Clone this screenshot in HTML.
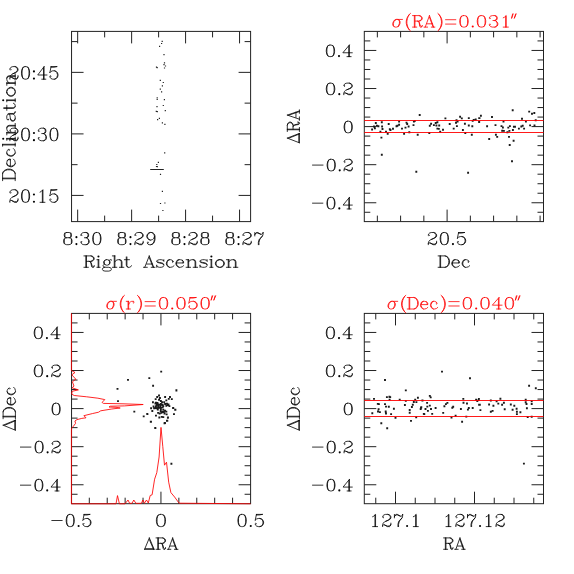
<!DOCTYPE html><html><head><meta charset="utf-8"><style>html,body{margin:0;padding:0;background:#fff;}svg{display:block}</style></head><body><svg width="574" height="574" viewBox="0 0 574 574"><rect width="574" height="574" fill="#fff"/>
<path d="M77.67 221.6L77.67 209.6M77.67 31.4L77.67 43.4M104.65 221.6L104.65 215.6M104.65 31.4L104.65 37.4M131.63 221.6L131.63 209.6M131.63 31.4L131.63 43.4M158.61 221.6L158.61 215.6M158.61 31.4L158.61 37.4M185.59 221.6L185.59 209.6M185.59 31.4L185.59 43.4M212.57 221.6L212.57 215.6M212.57 31.4L212.57 37.4M239.55 221.6L239.55 209.6M239.55 31.4L239.55 43.4M71.55 41.6L77.55 41.6M250.6 41.6L244.6 41.6M71.55 72.37L83.55 72.37M250.6 72.37L238.6 72.37M71.55 103.13L77.55 103.13M250.6 103.13L244.6 103.13M71.55 133.9L83.55 133.9M250.6 133.9L238.6 133.9M71.55 164.66L77.55 164.66M250.6 164.66L244.6 164.66M71.55 195.42L83.55 195.42M250.6 195.42L238.6 195.42M377.35 221.6L377.35 215.6M377.35 31.4L377.35 37.4M400.6 221.6L400.6 215.6M400.6 31.4L400.6 37.4M423.85 221.6L423.85 215.6M423.85 31.4L423.85 37.4M447.1 221.6L447.1 209.6M447.1 31.4L447.1 43.4M470.35 221.6L470.35 215.6M470.35 31.4L470.35 37.4M493.6 221.6L493.6 215.6M493.6 31.4L493.6 37.4M516.85 221.6L516.85 215.6M516.85 31.4L516.85 37.4M540.1 221.6L540.1 215.6M540.1 31.4L540.1 37.4M364.3 212.28L370.3 212.28M543.5 212.28L537.5 212.28M364.3 202.76L376.3 202.76M543.5 202.76L531.5 202.76M364.3 193.24L370.3 193.24M543.5 193.24L537.5 193.24M364.3 183.72L370.3 183.72M543.5 183.72L537.5 183.72M364.3 174.2L370.3 174.2M543.5 174.2L537.5 174.2M364.3 164.68L376.3 164.68M543.5 164.68L531.5 164.68M364.3 155.16L370.3 155.16M543.5 155.16L537.5 155.16M364.3 145.64L370.3 145.64M543.5 145.64L537.5 145.64M364.3 136.12L370.3 136.12M543.5 136.12L537.5 136.12M364.3 126.6L376.3 126.6M543.5 126.6L531.5 126.6M364.3 117.08L370.3 117.08M543.5 117.08L537.5 117.08M364.3 107.56L370.3 107.56M543.5 107.56L537.5 107.56M364.3 98.04L370.3 98.04M543.5 98.04L537.5 98.04M364.3 88.52L376.3 88.52M543.5 88.52L531.5 88.52M364.3 79L370.3 79M543.5 79L537.5 79M364.3 69.48L370.3 69.48M543.5 69.48L537.5 69.48M364.3 59.96L370.3 59.96M543.5 59.96L537.5 59.96M364.3 50.44L376.3 50.44M543.5 50.44L531.5 50.44M364.3 40.92L370.3 40.92M543.5 40.92L537.5 40.92M89.31 503.7L89.31 497.7M89.31 313.4L89.31 319.4M107.22 503.7L107.22 497.7M107.22 313.4L107.22 319.4M125.13 503.7L125.13 497.7M125.13 313.4L125.13 319.4M143.04 503.7L143.04 497.7M143.04 313.4L143.04 319.4M160.95 503.7L160.95 491.7M160.95 313.4L160.95 325.4M178.86 503.7L178.86 497.7M178.86 313.4L178.86 319.4M196.77 503.7L196.77 497.7M196.77 313.4L196.77 319.4M214.68 503.7L214.68 497.7M214.68 313.4L214.68 319.4M232.59 503.7L232.59 497.7M232.59 313.4L232.59 319.4M71.55 494.28L77.55 494.28M250.6 494.28L244.6 494.28M71.55 484.76L83.55 484.76M250.6 484.76L238.6 484.76M71.55 475.24L77.55 475.24M250.6 475.24L244.6 475.24M71.55 465.72L77.55 465.72M250.6 465.72L244.6 465.72M71.55 456.2L77.55 456.2M250.6 456.2L244.6 456.2M71.55 446.68L83.55 446.68M250.6 446.68L238.6 446.68M71.55 437.16L77.55 437.16M250.6 437.16L244.6 437.16M71.55 427.64L77.55 427.64M250.6 427.64L244.6 427.64M71.55 418.12L77.55 418.12M250.6 418.12L244.6 418.12M71.55 408.6L83.55 408.6M250.6 408.6L238.6 408.6M71.55 399.08L77.55 399.08M250.6 399.08L244.6 399.08M71.55 389.56L77.55 389.56M250.6 389.56L244.6 389.56M71.55 380.04L77.55 380.04M250.6 380.04L244.6 380.04M71.55 370.52L83.55 370.52M250.6 370.52L238.6 370.52M71.55 361L77.55 361M250.6 361L244.6 361M71.55 351.48L77.55 351.48M250.6 351.48L244.6 351.48M71.55 341.96L77.55 341.96M250.6 341.96L244.6 341.96M71.55 332.44L83.55 332.44M250.6 332.44L238.6 332.44M71.55 322.92L77.55 322.92M250.6 322.92L244.6 322.92M375.75 503.7L375.75 497.7M375.75 313.4L375.75 319.4M395.5 503.7L395.5 491.7M395.5 313.4L395.5 325.4M415.25 503.7L415.25 497.7M415.25 313.4L415.25 319.4M435 503.7L435 497.7M435 313.4L435 319.4M454.75 503.7L454.75 497.7M454.75 313.4L454.75 319.4M474.5 503.7L474.5 491.7M474.5 313.4L474.5 325.4M494.25 503.7L494.25 497.7M494.25 313.4L494.25 319.4M514 503.7L514 497.7M514 313.4L514 319.4M533.75 503.7L533.75 497.7M533.75 313.4L533.75 319.4M364.3 494.28L370.3 494.28M543.5 494.28L537.5 494.28M364.3 484.76L376.3 484.76M543.5 484.76L531.5 484.76M364.3 475.24L370.3 475.24M543.5 475.24L537.5 475.24M364.3 465.72L370.3 465.72M543.5 465.72L537.5 465.72M364.3 456.2L370.3 456.2M543.5 456.2L537.5 456.2M364.3 446.68L376.3 446.68M543.5 446.68L531.5 446.68M364.3 437.16L370.3 437.16M543.5 437.16L537.5 437.16M364.3 427.64L370.3 427.64M543.5 427.64L537.5 427.64M364.3 418.12L370.3 418.12M543.5 418.12L537.5 418.12M364.3 408.6L376.3 408.6M543.5 408.6L531.5 408.6M364.3 399.08L370.3 399.08M543.5 399.08L537.5 399.08M364.3 389.56L370.3 389.56M543.5 389.56L537.5 389.56M364.3 380.04L370.3 380.04M543.5 380.04L537.5 380.04M364.3 370.52L376.3 370.52M543.5 370.52L531.5 370.52M364.3 361L370.3 361M543.5 361L537.5 361M364.3 351.48L370.3 351.48M543.5 351.48L537.5 351.48M364.3 341.96L370.3 341.96M543.5 341.96L537.5 341.96M364.3 332.44L376.3 332.44M543.5 332.44L531.5 332.44M364.3 322.92L370.3 322.92M543.5 322.92L537.5 322.92" stroke="#222" stroke-width="1.0" fill="none"/>
<rect x="71.55" y="31.4" width="179.05" height="190.2" fill="none" stroke="#222" stroke-width="1.0"/>
<rect x="71.55" y="313.4" width="179.05" height="190.3" fill="none" stroke="#222" stroke-width="1.0"/>
<rect x="364.3" y="31.4" width="179.2" height="190.2" fill="none" stroke="#222" stroke-width="1.0"/>
<rect x="364.3" y="313.4" width="179.2" height="190.3" fill="none" stroke="#222" stroke-width="1.0"/>
<path d="M161.6 40.8h1.2v1.2h-1.2zM161 42.9h1.2v1.2h-1.2zM159 45.7h1.2v1.2h-1.2zM163.4 54h1.2v1.2h-1.2zM163.9 62.3h1.2v1.2h-1.2zM163.4 64h1.2v1.2h-1.2zM164.9 65.4h1.2v1.2h-1.2zM156.6 67.1h1.2v1.2h-1.2zM155.9 66.6h1.2v1.2h-1.2zM163.9 67.4h1.2v1.2h-1.2zM159.7 79.7h1.2v1.2h-1.2zM162.7 81.9h1.2v1.2h-1.2zM161.8 85.3h1.2v1.2h-1.2zM159.7 88.6h1.2v1.2h-1.2zM161 91.2h1.2v1.2h-1.2zM156.6 97.3h1.2v1.2h-1.2zM156.6 98.9h1.2v1.2h-1.2zM163.8 99h1.2v1.2h-1.2zM156.4 106h1.2v1.2h-1.2zM162.7 104.9h1.2v1.2h-1.2zM155.7 110.8h1.2v1.2h-1.2zM156.7 111h1.2v1.2h-1.2zM164.7 110.1h1.2v1.2h-1.2zM158.8 117.8h1.2v1.2h-1.2zM157 119.1h1.2v1.2h-1.2zM161.8 122.3h1.2v1.2h-1.2zM164.3 123.7h1.2v1.2h-1.2zM164.1 152.2h1.2v1.2h-1.2zM157.8 161.7h1.2v1.2h-1.2zM156.2 163.9h1.2v1.2h-1.2zM155.9 165.9h1.2v1.2h-1.2zM156.7 166h1.2v1.2h-1.2zM159.9 173.7h1.2v1.2h-1.2zM161.8 190.8h1.2v1.2h-1.2zM159.9 202.9h1.2v1.2h-1.2zM164.3 202.4h1.2v1.2h-1.2zM162.3 209.9h1.2v1.2h-1.2z" fill="#222"/>
<line x1="150.2" y1="169.5" x2="163.8" y2="169.5" stroke="#222" stroke-width="1.0"/>
<path d="M371.15 128.55h1.9v1.9h-1.9zM373.05 125.55h1.9v1.9h-1.9zM373.95 127.35h1.9v1.9h-1.9zM374.85 122.05h1.9v1.9h-1.9zM375.85 124.85h1.9v1.9h-1.9zM377.45 125.25h1.9v1.9h-1.9zM379.45 130.85h1.9v1.9h-1.9zM380.45 136.65h1.9v1.9h-1.9zM380.85 121.35h1.9v1.9h-1.9zM381.15 125.55h1.9v1.9h-1.9zM381.55 128.05h1.9v1.9h-1.9zM380.85 153.85h1.9v1.9h-1.9zM385.05 130.85h1.9v1.9h-1.9zM386.75 132.75h1.9v1.9h-1.9zM387.75 123.05h1.9v1.9h-1.9zM388.85 128.35h1.9v1.9h-1.9zM389.55 129.05h1.9v1.9h-1.9zM392.05 127.75h1.9v1.9h-1.9zM395.55 125.25h1.9v1.9h-1.9zM396.45 124.85h1.9v1.9h-1.9zM398.15 120.65h1.9v1.9h-1.9zM398.15 123.75h1.9v1.9h-1.9zM401.05 127.65h1.9v1.9h-1.9zM403.15 132.95h1.9v1.9h-1.9zM404.55 126.65h1.9v1.9h-1.9zM405.55 121.65h1.9v1.9h-1.9zM406.25 123.05h1.9v1.9h-1.9zM407.65 125.55h1.9v1.9h-1.9zM408.35 131.35h1.9v1.9h-1.9zM412.55 124.15h1.9v1.9h-1.9zM412.95 120.65h1.9v1.9h-1.9zM413.95 119.95h1.9v1.9h-1.9zM416.75 133.85h1.9v1.9h-1.9zM418.75 114.05h1.9v1.9h-1.9zM415.35 170.85h1.9v1.9h-1.9zM428.35 132.05h1.9v1.9h-1.9zM428.85 124.85h1.9v1.9h-1.9zM430.15 122.75h1.9v1.9h-1.9zM432.95 124.15h1.9v1.9h-1.9zM434.75 122.05h1.9v1.9h-1.9zM435.45 124.55h1.9v1.9h-1.9zM436.45 121.35h1.9v1.9h-1.9zM436.45 127.65h1.9v1.9h-1.9zM437.85 127.95h1.9v1.9h-1.9zM438.25 124.55h1.9v1.9h-1.9zM439.25 130.85h1.9v1.9h-1.9zM442.05 128.75h1.9v1.9h-1.9zM444.45 117.45h1.9v1.9h-1.9zM448.75 123.05h1.9v1.9h-1.9zM452.75 127.65h1.9v1.9h-1.9zM455.05 121.75h1.9v1.9h-1.9zM455.55 119.25h1.9v1.9h-1.9zM455.95 125.15h1.9v1.9h-1.9zM456.65 120.65h1.9v1.9h-1.9zM459.15 115.75h1.9v1.9h-1.9zM460.85 117.45h1.9v1.9h-1.9zM461.95 129.05h1.9v1.9h-1.9zM463.95 122.75h1.9v1.9h-1.9zM464.35 132.05h1.9v1.9h-1.9zM467.15 171.85h1.9v1.9h-1.9zM467.85 117.15h1.9v1.9h-1.9zM467.85 124.55h1.9v1.9h-1.9zM470.85 133.85h1.9v1.9h-1.9zM471.35 125.25h1.9v1.9h-1.9zM471.75 119.95h1.9v1.9h-1.9zM472.75 118.95h1.9v1.9h-1.9zM474.75 118.55h1.9v1.9h-1.9zM478.25 117.15h1.9v1.9h-1.9zM478.25 120.95h1.9v1.9h-1.9zM478.15 121.05h1.9v1.9h-1.9zM478.55 117.15h1.9v1.9h-1.9zM479.95 114.75h1.9v1.9h-1.9zM486.15 125.25h1.9v1.9h-1.9zM488.25 138.05h1.9v1.9h-1.9zM491.05 116.05h1.9v1.9h-1.9zM494.55 124.15h1.9v1.9h-1.9zM494.95 133.85h1.9v1.9h-1.9zM496.25 135.95h1.9v1.9h-1.9zM500.55 125.15h1.9v1.9h-1.9zM501.25 129.75h1.9v1.9h-1.9zM501.95 126.55h1.9v1.9h-1.9zM502.55 120.65h1.9v1.9h-1.9zM502.95 129.95h1.9v1.9h-1.9zM506.45 131.35h1.9v1.9h-1.9zM507.35 126.65h1.9v1.9h-1.9zM508.05 135.95h1.9v1.9h-1.9zM508.45 129.95h1.9v1.9h-1.9zM508.75 144.05h1.9v1.9h-1.9zM508.95 125.15h1.9v1.9h-1.9zM511.05 160.35h1.9v1.9h-1.9zM511.75 109.25h1.9v1.9h-1.9zM511.95 129.05h1.9v1.9h-1.9zM512.65 139.85h1.9v1.9h-1.9zM512.95 125.85h1.9v1.9h-1.9zM514.05 125.85h1.9v1.9h-1.9zM517.95 127.65h1.9v1.9h-1.9zM520.35 125.55h1.9v1.9h-1.9zM521.05 117.85h1.9v1.9h-1.9zM521.75 124.85h1.9v1.9h-1.9zM523.15 127.65h1.9v1.9h-1.9zM524.95 120.65h1.9v1.9h-1.9zM528.25 110.65h1.9v1.9h-1.9zM529.15 124.45h1.9v1.9h-1.9zM531.05 112.75h1.9v1.9h-1.9zM533.35 112.05h1.9v1.9h-1.9zM533.55 124.55h1.9v1.9h-1.9zM534.75 119.25h1.9v1.9h-1.9z" fill="#1a1a1a"/>
<path d="M371.35 412.35h1.9v1.9h-1.9zM373.05 397.95h1.9v1.9h-1.9zM376.85 402.95h1.9v1.9h-1.9zM377.95 403.15h1.9v1.9h-1.9zM377.05 410.55h1.9v1.9h-1.9zM377.65 408.35h1.9v1.9h-1.9zM378.95 411.15h1.9v1.9h-1.9zM380.35 422.35h1.9v1.9h-1.9zM384.05 379.05h1.9v1.9h-1.9zM384.05 403.15h1.9v1.9h-1.9zM384.75 410.55h1.9v1.9h-1.9zM385.05 405.65h1.9v1.9h-1.9zM385.05 412.55h1.9v1.9h-1.9zM385.95 396.15h1.9v1.9h-1.9zM386.25 427.25h1.9v1.9h-1.9zM387.85 405.85h1.9v1.9h-1.9zM388.45 395.85h1.9v1.9h-1.9zM388.65 398.65h1.9v1.9h-1.9zM389.25 396.15h1.9v1.9h-1.9zM390.15 413.15h1.9v1.9h-1.9zM392.95 407.75h1.9v1.9h-1.9zM394.55 416.95h1.9v1.9h-1.9zM398.75 398.65h1.9v1.9h-1.9zM403.95 404.05h1.9v1.9h-1.9zM404.85 389.45h1.9v1.9h-1.9zM404.85 399.95h1.9v1.9h-1.9zM408.75 409.05h1.9v1.9h-1.9zM408.75 411.75h1.9v1.9h-1.9zM410.05 419.95h1.9v1.9h-1.9zM410.95 406.05h1.9v1.9h-1.9zM411.85 403.85h1.9v1.9h-1.9zM412.85 401.05h1.9v1.9h-1.9zM414.25 398.65h1.9v1.9h-1.9zM415.25 416.35h1.9v1.9h-1.9zM415.45 401.15h1.9v1.9h-1.9zM416.95 396.85h1.9v1.9h-1.9zM419.75 408.05h1.9v1.9h-1.9zM420.35 406.25h1.9v1.9h-1.9zM421.55 399.55h1.9v1.9h-1.9zM422.85 412.95h1.9v1.9h-1.9zM441.05 370.65h1.9v1.9h-1.9zM469.05 377.35h1.9v1.9h-1.9zM421.45 399.55h1.9v1.9h-1.9zM428.85 394.95h1.9v1.9h-1.9zM429.75 396.45h1.9v1.9h-1.9zM420.05 406.85h1.9v1.9h-1.9zM423.35 413.15h1.9v1.9h-1.9zM424.55 408.05h1.9v1.9h-1.9zM426.15 401.95h1.9v1.9h-1.9zM426.35 405.65h1.9v1.9h-1.9zM426.95 409.95h1.9v1.9h-1.9zM428.85 404.65h1.9v1.9h-1.9zM430.05 408.05h1.9v1.9h-1.9zM431.25 412.95h1.9v1.9h-1.9zM434.65 407.05h1.9v1.9h-1.9zM442.25 411.95h1.9v1.9h-1.9zM443.45 405.35h1.9v1.9h-1.9zM444.95 403.15h1.9v1.9h-1.9zM446.45 401.95h1.9v1.9h-1.9zM450.55 416.65h1.9v1.9h-1.9zM451.35 406.85h1.9v1.9h-1.9zM452.25 405.85h1.9v1.9h-1.9zM454.65 414.75h1.9v1.9h-1.9zM459.95 408.05h1.9v1.9h-1.9zM461.15 420.85h1.9v1.9h-1.9zM462.35 397.95h1.9v1.9h-1.9zM462.55 401.75h1.9v1.9h-1.9zM465.35 415.65h1.9v1.9h-1.9zM466.05 402.55h1.9v1.9h-1.9zM466.95 408.65h1.9v1.9h-1.9zM467.85 407.05h1.9v1.9h-1.9zM471.75 407.05h1.9v1.9h-1.9zM475.15 398.65h1.9v1.9h-1.9zM476.35 400.15h1.9v1.9h-1.9zM477.95 397.95h1.9v1.9h-1.9zM478.15 403.85h1.9v1.9h-1.9zM477.65 399.05h1.9v1.9h-1.9zM478.85 403.85h1.9v1.9h-1.9zM479.45 409.15h1.9v1.9h-1.9zM488.15 403.55h1.9v1.9h-1.9zM489.85 399.55h1.9v1.9h-1.9zM489.85 410.85h1.9v1.9h-1.9zM491.65 409.95h1.9v1.9h-1.9zM492.45 404.75h1.9v1.9h-1.9zM495.65 400.45h1.9v1.9h-1.9zM497.35 402.65h1.9v1.9h-1.9zM499.45 397.75h1.9v1.9h-1.9zM501.15 403.85h1.9v1.9h-1.9zM502.95 401.85h1.9v1.9h-1.9zM503.75 408.25h1.9v1.9h-1.9zM509.85 403.55h1.9v1.9h-1.9zM511.65 408.75h1.9v1.9h-1.9zM513.35 404.75h1.9v1.9h-1.9zM515.65 407.75h1.9v1.9h-1.9zM515.95 410.85h1.9v1.9h-1.9zM515.95 413.15h1.9v1.9h-1.9zM519.45 411.35h1.9v1.9h-1.9zM522.95 462.65h1.9v1.9h-1.9zM524.75 398.65h1.9v1.9h-1.9zM524.75 401.25h1.9v1.9h-1.9zM525.55 403.05h1.9v1.9h-1.9zM525.95 407.35h1.9v1.9h-1.9zM526.75 416.05h1.9v1.9h-1.9zM528.15 384.75h1.9v1.9h-1.9zM530.75 400.45h1.9v1.9h-1.9zM530.75 403.05h1.9v1.9h-1.9zM530.75 415.75h1.9v1.9h-1.9zM534.85 387.35h1.9v1.9h-1.9z" fill="#1a1a1a"/>
<path d="M160.25 370.65h1.9v1.9h-1.9zM127.05 378.95h1.9v1.9h-1.9zM148.35 377.15h1.9v1.9h-1.9zM152.15 384.85h1.9v1.9h-1.9zM116.55 387.95h1.9v1.9h-1.9zM175.45 389.25h1.9v1.9h-1.9zM117.05 400.15h1.9v1.9h-1.9zM133.35 410.65h1.9v1.9h-1.9zM142.75 415.45h1.9v1.9h-1.9zM146.25 412.95h1.9v1.9h-1.9zM150.05 420.75h1.9v1.9h-1.9zM154.25 427.05h1.9v1.9h-1.9zM163.75 422.15h1.9v1.9h-1.9zM166.35 419.95h1.9v1.9h-1.9zM173.05 413.15h1.9v1.9h-1.9zM174.45 408.85h1.9v1.9h-1.9zM172.35 407.15h1.9v1.9h-1.9zM167.05 416.45h1.9v1.9h-1.9zM170.45 462.75h1.9v1.9h-1.9zM149.95 420.85h1.9v1.9h-1.9zM154.45 427.15h1.9v1.9h-1.9zM164.05 422.05h1.9v1.9h-1.9zM166.25 419.75h1.9v1.9h-1.9zM175.45 389.66h1.9v1.9h-1.9zM158.07 394.54h1.9v1.9h-1.9zM156.25 396.06h1.9v1.9h-1.9zM164.17 396.06h1.9v1.9h-1.9zM169.05 396.06h1.9v1.9h-1.9zM154.72 398.2h1.9v1.9h-1.9zM158.99 396.98h1.9v1.9h-1.9zM167.83 397.89h1.9v1.9h-1.9zM170.88 398.2h1.9v1.9h-1.9zM165.39 399.42h1.9v1.9h-1.9zM151.98 401.25h1.9v1.9h-1.9zM158.07 398.81h1.9v1.9h-1.9zM159.9 400.03h1.9v1.9h-1.9zM161.12 401.25h1.9v1.9h-1.9zM163.26 401.25h1.9v1.9h-1.9zM155.03 401.85h1.9v1.9h-1.9zM156.25 403.38h1.9v1.9h-1.9zM158.07 403.68h1.9v1.9h-1.9zM159.9 403.07h1.9v1.9h-1.9zM161.73 403.99h1.9v1.9h-1.9zM164.17 403.07h1.9v1.9h-1.9zM166 402.77h1.9v1.9h-1.9zM167.53 403.38h1.9v1.9h-1.9zM165.39 404.9h1.9v1.9h-1.9zM168.44 405.21h1.9v1.9h-1.9zM152.59 405.51h1.9v1.9h-1.9zM155.03 405.21h1.9v1.9h-1.9zM157.16 405.51h1.9v1.9h-1.9zM159.29 405.51h1.9v1.9h-1.9zM162.34 405.21h1.9v1.9h-1.9zM150.15 407.34h1.9v1.9h-1.9zM153.2 407.34h1.9v1.9h-1.9zM155.64 407.34h1.9v1.9h-1.9zM157.46 406.73h1.9v1.9h-1.9zM159.9 406.73h1.9v1.9h-1.9zM161.73 406.43h1.9v1.9h-1.9zM172.1 407.04h1.9v1.9h-1.9zM174.23 408.87h1.9v1.9h-1.9zM151.37 410.09h1.9v1.9h-1.9zM156.85 408.56h1.9v1.9h-1.9zM159.9 408.26h1.9v1.9h-1.9zM162.34 408.87h1.9v1.9h-1.9zM164.17 409.78h1.9v1.9h-1.9zM165.39 410.7h1.9v1.9h-1.9zM157.16 411.92h1.9v1.9h-1.9zM158.68 412.53h1.9v1.9h-1.9zM160.51 411.92h1.9v1.9h-1.9zM161.73 411h1.9v1.9h-1.9zM163.56 412.53h1.9v1.9h-1.9zM165.7 413.44h1.9v1.9h-1.9zM173.01 413.14h1.9v1.9h-1.9zM146.49 413.14h1.9v1.9h-1.9zM155.03 414.66h1.9v1.9h-1.9zM158.38 416.49h1.9v1.9h-1.9zM160.82 415.88h1.9v1.9h-1.9zM162.34 416.18h1.9v1.9h-1.9zM166.92 416.79h1.9v1.9h-1.9zM149.84 420.76h1.9v1.9h-1.9zM166 419.84h1.9v1.9h-1.9zM163.56 422.28h1.9v1.9h-1.9zM160.77 403.76h1.9v1.9h-1.9zM166.74 404.02h1.9v1.9h-1.9zM159.78 410.07h1.9v1.9h-1.9zM156.72 402.9h1.9v1.9h-1.9zM160.01 403.76h1.9v1.9h-1.9zM155.87 404.17h1.9v1.9h-1.9zM158.37 406.84h1.9v1.9h-1.9zM154.46 402.54h1.9v1.9h-1.9zM162.9 410.98h1.9v1.9h-1.9zM154.92 406.98h1.9v1.9h-1.9zM156.51 402.02h1.9v1.9h-1.9zM156.83 403.46h1.9v1.9h-1.9z" fill="#1a1a1a"/>
<line x1="364.3" y1="120.5" x2="543.5" y2="120.5" stroke="#f00" stroke-width="0.9"/>
<line x1="364.3" y1="132.5" x2="543.5" y2="132.5" stroke="#f00" stroke-width="0.9"/>
<line x1="364.3" y1="400.5" x2="543.5" y2="400.5" stroke="#f00" stroke-width="0.9"/>
<line x1="364.3" y1="416.5" x2="543.5" y2="416.5" stroke="#f00" stroke-width="0.9"/>
<polyline points="71.4,313.4 71.4,370.5 75,372.5 71.8,374.8 75.8,379.2 72.4,381.8 74,386.1 72.1,387.8 78.4,389.9 72.1,391.3 71.7,394.1 74.2,395.5 86.7,396.8 97.9,398.2 104.8,399.6 102.1,402.4 103.4,403.4 123,403.8 143.2,404.5 124.4,405.9 110.4,406.2 109,407 116,407.3 120.2,408 111.8,409 100.7,410.8 98.6,412.2 92.3,413.6 83.9,415.7 86,417.8 81.8,418.4 77,419.6 74.9,421 75.6,423.3 73.5,426.1 71.7,428.2 71.4,430 71.4,503.8" fill="none" stroke="#f00" stroke-width="0.85" stroke-linejoin="round"/>
<polyline points="71.4,503.8 116,503.8 117.5,495.6 119.4,503.8 125,503.8 128,500 129.6,503.3 132,503.3 133.8,500 135.9,503.3 141.4,503.3 142.9,500 144.5,503.3 145,502.2 146.5,500 148.3,503 150.2,495.5 152.1,494.8 154.6,479.2 156.8,472.6 159.1,457 161,427.4 162.8,446.7 164.5,465.2 166.5,462.2 168.7,482.2 170.9,492.6 174.6,497 179.1,503.2 250.5,503.8" fill="none" stroke="#f00" stroke-width="0.85" stroke-linejoin="round"/>
<path d="M10.48 69.00 11.06 69.60 10.48 70.20 9.90 69.60 9.90 69.00 10.48 67.80 11.06 67.20 12.80 66.60 15.12 66.60 16.85 67.20 17.43 67.80 18.01 69.00 18.01 70.20 17.43 71.40 15.70 72.60 12.80 73.80 11.64 74.40 10.48 75.60 9.90 77.40 9.90 79.20M15.12 66.60 16.27 67.20 16.85 67.80 17.43 69.00 17.43 70.20 16.85 71.40 15.12 72.60 12.80 73.80M9.90 78.00 10.48 77.40 11.64 77.40 14.54 78.60 16.27 78.60 17.43 78.00 18.01 76.80M11.64 77.40 14.54 79.20 16.85 79.20 17.43 78.60 18.01 76.80 18.01 75.60M24.97 66.60 23.23 67.20 22.07 69.00 21.49 72.00 21.49 73.80 22.07 76.80 23.23 78.60 24.97 79.20 26.13 79.20 27.87 78.60 29.02 76.80 29.60 73.80 29.60 72.00 29.02 69.00 27.87 67.20 26.13 66.60 24.97 66.60M23.23 67.20 22.65 68.40 22.07 70.80 22.07 75.00 22.65 77.40 23.23 78.60M27.87 78.60 28.44 77.40 29.02 75.00 29.02 70.80 28.44 68.40 27.87 67.20M43.51 67.80 43.51 79.20M44.09 66.60 44.09 79.20M44.09 66.60 37.72 75.00 46.99 75.00M41.77 79.20 45.83 79.20M51.05 66.60 49.89 72.60M49.89 72.60 51.05 71.40 52.78 70.80 54.52 70.80 56.26 71.40 57.42 72.60 58.00 74.40 58.00 75.60 57.42 77.40 56.26 78.60 54.52 79.20 52.78 79.20 51.05 78.60 50.47 78.00 49.89 76.80 49.89 76.20 50.47 75.60 51.05 76.20 50.47 76.80M54.52 70.80 55.68 71.40 56.84 72.60 57.42 74.40 57.42 75.60 56.84 77.40 55.68 78.60 54.52 79.20M51.05 66.60 56.84 66.60M51.05 67.20 53.94 67.20 56.84 66.60" fill="none" stroke="#000" stroke-width="0.8" stroke-linecap="round" stroke-linejoin="round"/><circle cx="33.95" cy="71.40" r="1.05" fill="#000"/><circle cx="33.95" cy="78.60" r="1.05" fill="#000"/>
<path d="M10.48 130.56 11.06 131.16 10.48 131.76 9.90 131.16 9.90 130.56 10.48 129.36 11.06 128.76 12.80 128.16 15.12 128.16 16.85 128.76 17.43 129.36 18.01 130.56 18.01 131.76 17.43 132.96 15.70 134.16 12.80 135.36 11.64 135.96 10.48 137.16 9.90 138.96 9.90 140.76M15.12 128.16 16.27 128.76 16.85 129.36 17.43 130.56 17.43 131.76 16.85 132.96 15.12 134.16 12.80 135.36M9.90 139.56 10.48 138.96 11.64 138.96 14.54 140.16 16.27 140.16 17.43 139.56 18.01 138.36M11.64 138.96 14.54 140.76 16.85 140.76 17.43 140.16 18.01 138.36 18.01 137.16M24.97 128.16 23.23 128.76 22.07 130.56 21.49 133.56 21.49 135.36 22.07 138.36 23.23 140.16 24.97 140.76 26.13 140.76 27.87 140.16 29.02 138.36 29.60 135.36 29.60 133.56 29.02 130.56 27.87 128.76 26.13 128.16 24.97 128.16M23.23 128.76 22.65 129.96 22.07 132.36 22.07 136.56 22.65 138.96 23.23 140.16M27.87 140.16 28.44 138.96 29.02 136.56 29.02 132.36 28.44 129.96 27.87 128.76M38.88 130.56 39.46 131.16 38.88 131.76 38.30 131.16 38.30 130.56 38.88 129.36 39.46 128.76 41.19 128.16 43.51 128.16 45.25 128.76 45.83 129.96 45.83 131.76 45.25 132.96 43.51 133.56 41.77 133.56M43.51 128.16 44.67 128.76 45.25 129.96 45.25 131.76 44.67 132.96 43.51 133.56M43.51 133.56 44.67 134.16 45.83 135.36 46.41 136.56 46.41 138.36 45.83 139.56 45.25 140.16 43.51 140.76 41.19 140.76 39.46 140.16 38.88 139.56 38.30 138.36 38.30 137.76 38.88 137.16 39.46 137.76 38.88 138.36M45.25 134.76 45.83 136.56 45.83 138.36 45.25 139.56 44.67 140.16 43.51 140.76M53.36 128.16 51.63 128.76 50.47 130.56 49.89 133.56 49.89 135.36 50.47 138.36 51.63 140.16 53.36 140.76 54.52 140.76 56.26 140.16 57.42 138.36 58.00 135.36 58.00 133.56 57.42 130.56 56.26 128.76 54.52 128.16 53.36 128.16M51.63 128.76 51.05 129.96 50.47 132.36 50.47 136.56 51.05 138.96 51.63 140.16M56.26 140.16 56.84 138.96 57.42 136.56 57.42 132.36 56.84 129.96 56.26 128.76" fill="none" stroke="#000" stroke-width="0.8" stroke-linecap="round" stroke-linejoin="round"/><circle cx="33.95" cy="132.96" r="1.05" fill="#000"/><circle cx="33.95" cy="140.16" r="1.05" fill="#000"/>
<path d="M10.48 192.12 11.06 192.72 10.48 193.32 9.90 192.72 9.90 192.12 10.48 190.92 11.06 190.32 12.80 189.72 15.12 189.72 16.85 190.32 17.43 190.92 18.01 192.12 18.01 193.32 17.43 194.52 15.70 195.72 12.80 196.92 11.64 197.52 10.48 198.72 9.90 200.52 9.90 202.32M15.12 189.72 16.27 190.32 16.85 190.92 17.43 192.12 17.43 193.32 16.85 194.52 15.12 195.72 12.80 196.92M9.90 201.12 10.48 200.52 11.64 200.52 14.54 201.72 16.27 201.72 17.43 201.12 18.01 199.92M11.64 200.52 14.54 202.32 16.85 202.32 17.43 201.72 18.01 199.92 18.01 198.72M24.97 189.72 23.23 190.32 22.07 192.12 21.49 195.12 21.49 196.92 22.07 199.92 23.23 201.72 24.97 202.32 26.13 202.32 27.87 201.72 29.02 199.92 29.60 196.92 29.60 195.12 29.02 192.12 27.87 190.32 26.13 189.72 24.97 189.72M23.23 190.32 22.65 191.52 22.07 193.92 22.07 198.12 22.65 200.52 23.23 201.72M27.87 201.72 28.44 200.52 29.02 198.12 29.02 193.92 28.44 191.52 27.87 190.32M40.03 192.12 41.19 191.52 42.93 189.72 42.93 202.32M42.35 190.32 42.35 202.32M40.03 202.32 44.96 202.32M51.05 189.72 49.89 195.72M49.89 195.72 51.05 194.52 52.78 193.92 54.52 193.92 56.26 194.52 57.42 195.72 58.00 197.52 58.00 198.72 57.42 200.52 56.26 201.72 54.52 202.32 52.78 202.32 51.05 201.72 50.47 201.12 49.89 199.92 49.89 199.32 50.47 198.72 51.05 199.32 50.47 199.92M54.52 193.92 55.68 194.52 56.84 195.72 57.42 197.52 57.42 198.72 56.84 200.52 55.68 201.72 54.52 202.32M51.05 189.72 56.84 189.72M51.05 190.32 53.94 190.32 56.84 189.72" fill="none" stroke="#000" stroke-width="0.8" stroke-linecap="round" stroke-linejoin="round"/><circle cx="33.95" cy="194.52" r="1.05" fill="#000"/><circle cx="33.95" cy="201.72" r="1.05" fill="#000"/>
<path d="M66.66 232.50 64.88 233.08 64.29 234.24 64.29 235.99 64.88 237.15 66.66 237.73 69.03 237.73 70.80 237.15 71.40 235.99 71.40 234.24 70.80 233.08 69.03 232.50 66.66 232.50M66.66 237.73 64.88 238.31 64.29 238.89 63.70 240.05 63.70 242.38 64.29 243.54 64.88 244.12 66.66 244.70 69.03 244.70 70.80 244.12 71.40 243.54 71.99 242.38 71.99 240.05 71.40 238.89 70.80 238.31 69.03 237.73M64.88 233.08 64.88 237.15M70.80 237.15 70.80 233.08M64.29 238.89 64.29 243.54M71.40 243.54 71.40 238.89M81.46 234.82 82.05 235.40 81.46 235.99 80.87 235.40 80.87 234.82 81.46 233.66 82.05 233.08 83.83 232.50 86.20 232.50 87.97 233.08 88.57 234.24 88.57 235.99 87.97 237.15 86.20 237.73 84.42 237.73M86.20 232.50 87.38 233.08 87.97 234.24 87.97 235.99 87.38 237.15 86.20 237.73M86.20 237.73 87.38 238.31 88.57 239.47 89.16 240.63 89.16 242.38 88.57 243.54 87.97 244.12 86.20 244.70 83.83 244.70 82.05 244.12 81.46 243.54 80.87 242.38 80.87 241.80 81.46 241.21 82.05 241.80 81.46 242.38M87.97 238.89 88.57 240.63 88.57 242.38 87.97 243.54 87.38 244.12 86.20 244.70M96.26 232.50 94.49 233.08 93.30 234.82 92.71 237.73 92.71 239.47 93.30 242.38 94.49 244.12 96.26 244.70 97.45 244.70 99.22 244.12 100.41 242.38 101.00 239.47 101.00 237.73 100.41 234.82 99.22 233.08 97.45 232.50 96.26 232.50M94.49 233.08 93.90 234.24 93.30 236.57 93.30 240.63 93.90 242.96 94.49 244.12M99.22 244.12 99.82 242.96 100.41 240.63 100.41 236.57 99.82 234.24 99.22 233.08" fill="none" stroke="#000" stroke-width="0.8" stroke-linecap="round" stroke-linejoin="round"/><circle cx="76.43" cy="237.15" r="1.05" fill="#000"/><circle cx="76.43" cy="244.12" r="1.05" fill="#000"/>
<path d="M120.69 232.50 118.91 233.08 118.32 234.24 118.32 235.99 118.91 237.15 120.69 237.73 123.06 237.73 124.83 237.15 125.43 235.99 125.43 234.24 124.83 233.08 123.06 232.50 120.69 232.50M120.69 237.73 118.91 238.31 118.32 238.89 117.73 240.05 117.73 242.38 118.32 243.54 118.91 244.12 120.69 244.70 123.06 244.70 124.83 244.12 125.43 243.54 126.02 242.38 126.02 240.05 125.43 238.89 124.83 238.31 123.06 237.73M118.91 233.08 118.91 237.15M124.83 237.15 124.83 233.08M118.32 238.89 118.32 243.54M125.43 243.54 125.43 238.89M135.49 234.82 136.08 235.40 135.49 235.99 134.90 235.40 134.90 234.82 135.49 233.66 136.08 233.08 137.86 232.50 140.23 232.50 142.00 233.08 142.60 233.66 143.19 234.82 143.19 235.99 142.60 237.15 140.82 238.31 137.86 239.47 136.68 240.05 135.49 241.21 134.90 242.96 134.90 244.70M140.23 232.50 141.41 233.08 142.00 233.66 142.60 234.82 142.60 235.99 142.00 237.15 140.23 238.31 137.86 239.47M134.90 243.54 135.49 242.96 136.68 242.96 139.64 244.12 141.41 244.12 142.60 243.54 143.19 242.38M136.68 242.96 139.64 244.70 142.00 244.70 142.60 244.12 143.19 242.38 143.19 241.21M154.44 236.57 153.85 238.31 152.66 239.47 150.89 240.05 150.29 240.05 148.52 239.47 147.33 238.31 146.74 236.57 146.74 235.99 147.33 234.24 148.52 233.08 150.29 232.50 151.48 232.50 153.25 233.08 154.44 234.24 155.03 235.99 155.03 239.47 154.44 241.80 153.85 242.96 152.66 244.12 150.89 244.70 149.11 244.70 147.93 244.12 147.33 242.96 147.33 242.38 147.93 241.80 148.52 242.38 147.93 242.96M150.29 240.05 149.11 239.47 147.93 238.31 147.33 236.57 147.33 235.99 147.93 234.24 149.11 233.08 150.29 232.50M151.48 232.50 152.66 233.08 153.85 234.24 154.44 235.99 154.44 239.47 153.85 241.80 153.25 242.96 152.07 244.12 150.89 244.70" fill="none" stroke="#000" stroke-width="0.8" stroke-linecap="round" stroke-linejoin="round"/><circle cx="130.46" cy="237.15" r="1.05" fill="#000"/><circle cx="130.46" cy="244.12" r="1.05" fill="#000"/>
<path d="M174.72 232.50 172.94 233.08 172.35 234.24 172.35 235.99 172.94 237.15 174.72 237.73 177.09 237.73 178.86 237.15 179.46 235.99 179.46 234.24 178.86 233.08 177.09 232.50 174.72 232.50M174.72 237.73 172.94 238.31 172.35 238.89 171.76 240.05 171.76 242.38 172.35 243.54 172.94 244.12 174.72 244.70 177.09 244.70 178.86 244.12 179.46 243.54 180.05 242.38 180.05 240.05 179.46 238.89 178.86 238.31 177.09 237.73M172.94 233.08 172.94 237.15M178.86 237.15 178.86 233.08M172.35 238.89 172.35 243.54M179.46 243.54 179.46 238.89M189.52 234.82 190.11 235.40 189.52 235.99 188.93 235.40 188.93 234.82 189.52 233.66 190.11 233.08 191.89 232.50 194.26 232.50 196.03 233.08 196.63 233.66 197.22 234.82 197.22 235.99 196.63 237.15 194.85 238.31 191.89 239.47 190.71 240.05 189.52 241.21 188.93 242.96 188.93 244.70M194.26 232.50 195.44 233.08 196.03 233.66 196.63 234.82 196.63 235.99 196.03 237.15 194.26 238.31 191.89 239.47M188.93 243.54 189.52 242.96 190.71 242.96 193.67 244.12 195.44 244.12 196.63 243.54 197.22 242.38M190.71 242.96 193.67 244.70 196.03 244.70 196.63 244.12 197.22 242.38 197.22 241.21M203.73 232.50 201.96 233.08 201.36 234.24 201.36 235.99 201.96 237.15 203.73 237.73 206.10 237.73 207.88 237.15 208.47 235.99 208.47 234.24 207.88 233.08 206.10 232.50 203.73 232.50M203.73 237.73 201.96 238.31 201.36 238.89 200.77 240.05 200.77 242.38 201.36 243.54 201.96 244.12 203.73 244.70 206.10 244.70 207.88 244.12 208.47 243.54 209.06 242.38 209.06 240.05 208.47 238.89 207.88 238.31 206.10 237.73M201.96 233.08 201.96 237.15M207.88 237.15 207.88 233.08M201.36 238.89 201.36 243.54M208.47 243.54 208.47 238.89" fill="none" stroke="#000" stroke-width="0.8" stroke-linecap="round" stroke-linejoin="round"/><circle cx="184.49" cy="237.15" r="1.05" fill="#000"/><circle cx="184.49" cy="244.12" r="1.05" fill="#000"/>
<path d="M228.75 232.50 226.97 233.08 226.38 234.24 226.38 235.99 226.97 237.15 228.75 237.73 231.12 237.73 232.89 237.15 233.49 235.99 233.49 234.24 232.89 233.08 231.12 232.50 228.75 232.50M228.75 237.73 226.97 238.31 226.38 238.89 225.79 240.05 225.79 242.38 226.38 243.54 226.97 244.12 228.75 244.70 231.12 244.70 232.89 244.12 233.49 243.54 234.08 242.38 234.08 240.05 233.49 238.89 232.89 238.31 231.12 237.73M226.97 233.08 226.97 237.15M232.89 237.15 232.89 233.08M226.38 238.89 226.38 243.54M233.49 243.54 233.49 238.89M243.55 234.82 244.14 235.40 243.55 235.99 242.96 235.40 242.96 234.82 243.55 233.66 244.14 233.08 245.92 232.50 248.29 232.50 250.06 233.08 250.66 233.66 251.25 234.82 251.25 235.99 250.66 237.15 248.88 238.31 245.92 239.47 244.74 240.05 243.55 241.21 242.96 242.96 242.96 244.70M248.29 232.50 249.47 233.08 250.06 233.66 250.66 234.82 250.66 235.99 250.06 237.15 248.29 238.31 245.92 239.47M242.96 243.54 243.55 242.96 244.74 242.96 247.70 244.12 249.47 244.12 250.66 243.54 251.25 242.38M244.74 242.96 247.70 244.70 250.06 244.70 250.66 244.12 251.25 242.38 251.25 241.21M254.80 232.50 254.80 235.99M254.80 234.82 255.39 233.66 256.58 232.50 257.76 232.50 260.72 234.24 261.91 234.24 262.50 233.66 263.09 232.50M255.39 233.66 256.58 233.08 257.76 233.08 260.72 234.24M263.09 232.50 263.09 234.24 262.50 235.99 260.13 238.89 259.54 240.05 258.95 242.38 258.95 244.70M262.50 235.99 259.54 238.89 258.95 240.05 258.35 242.38 258.35 244.70" fill="none" stroke="#000" stroke-width="0.8" stroke-linecap="round" stroke-linejoin="round"/><circle cx="238.52" cy="237.15" r="1.05" fill="#000"/><circle cx="238.52" cy="244.12" r="1.05" fill="#000"/>
<path d="M85.83 255.90 85.83 267.30M86.47 255.90 86.47 267.30M83.90 255.90 90.96 255.90 92.89 256.44 93.53 256.99 94.17 258.07 94.17 259.16 93.53 260.24 92.89 260.79 90.96 261.33 86.47 261.33M90.96 255.90 92.25 256.44 92.89 256.99 93.53 258.07 93.53 259.16 92.89 260.24 92.25 260.79 90.96 261.33M89.04 261.33 90.32 261.87 90.96 262.41 92.25 266.21 92.89 266.76 93.53 266.76 94.17 266.21M90.32 261.87 90.96 262.96 91.60 266.76 92.25 267.30 93.53 267.30 94.17 266.21 94.17 265.67M83.90 267.30 88.39 267.30M98.15 259.70 98.15 267.30M98.79 259.70 98.79 267.30M96.87 259.70 98.79 259.70M96.87 267.30 100.08 267.30M106.24 259.70 104.96 260.24 104.31 260.79 103.67 261.87 103.67 262.96 104.31 264.04 104.96 264.59 106.24 265.13 107.52 265.13 108.81 264.59 109.45 264.04 110.09 262.96 110.09 261.87 109.45 260.79 108.81 260.24 107.52 259.70 106.24 259.70M104.96 260.24 104.31 261.33 104.31 263.50 104.96 264.59M108.81 264.59 109.45 263.50 109.45 261.33 108.81 260.24M109.45 260.24 110.09 259.70 111.37 259.70 111.37 260.24M104.31 264.04 103.67 264.59 103.03 265.67 103.03 266.21 103.67 266.76 105.60 267.30 108.81 267.30 110.73 267.84 111.37 268.93 111.37 269.47 110.73 270.56 108.81 271.10 104.96 271.10 103.03 270.56 102.39 269.47 102.39 268.93 103.03 267.84 104.96 267.30M114.26 255.90 114.26 267.30M114.91 255.90 114.91 267.30M114.91 261.87 116.19 260.24 118.12 259.70 119.40 259.70 121.32 260.24 121.97 261.87 121.97 267.30M119.40 259.70 120.68 260.24 121.32 261.87 121.32 267.30M112.34 255.90 114.91 255.90M112.34 267.30 116.83 267.30M119.40 267.30 123.89 267.30M126.27 256.99 126.27 265.13 126.91 266.76 128.19 267.30 129.48 267.30 130.76 266.76 131.40 265.67M126.91 256.99 126.91 265.67 127.55 266.76 128.19 267.30M124.34 259.70 129.48 259.70M149.25 255.90 144.76 267.30M149.25 255.90 153.74 267.30M149.25 257.53 153.10 267.30M146.68 264.04 152.46 264.04M143.47 267.30 147.32 267.30M151.17 267.30 155.03 267.30M163.82 259.70 163.82 261.33M163.82 260.79 163.18 260.24 161.25 259.70 159.33 259.70 157.40 260.24 156.76 261.33 157.40 262.41 159.33 262.96 161.89 263.50 163.18 264.04 163.82 265.13 163.82 265.67 163.18 266.76 161.25 267.30 159.33 267.30 157.40 266.76 156.76 265.67M156.76 267.30 156.76 265.13M156.76 261.33 157.40 261.87 159.33 262.41 161.89 262.96 163.18 263.50 163.82 264.59M172.74 261.33 172.10 261.87 172.74 262.41 173.39 261.87 173.39 261.33 172.10 260.24 170.82 259.70 169.53 259.70 167.61 260.24 166.97 261.33 166.32 262.96 166.32 264.04 166.97 265.67 168.25 266.76 169.53 267.30 170.82 267.30 172.74 266.76 174.03 265.67M169.53 259.70 168.25 260.24 167.61 261.33 166.97 262.96 166.97 264.04 167.61 265.67 168.89 266.76 169.53 267.30M176.53 262.96 183.59 262.96 183.59 261.87 182.95 260.79 182.31 260.24 180.38 259.70 179.10 259.70 177.17 260.24 176.53 261.33 175.89 262.96 175.89 264.04 176.53 265.67 177.81 266.76 179.10 267.30 180.38 267.30 182.31 266.76 183.59 265.67M182.95 262.96 182.95 261.33 182.31 260.24M179.10 259.70 177.81 260.24 177.17 261.33 176.53 262.96 176.53 264.04 177.17 265.67 178.46 266.76 179.10 267.30M188.02 259.70 188.02 267.30M188.66 259.70 188.66 267.30M188.66 261.87 189.95 260.24 191.87 259.70 193.16 259.70 195.08 260.24 195.72 261.87 195.72 267.30M193.16 259.70 194.44 260.24 195.08 261.87 195.08 267.30M186.10 259.70 188.66 259.70M186.10 267.30 190.59 267.30M193.16 267.30 197.65 267.30M207.09 259.70 207.09 261.33M207.09 260.79 206.45 260.24 204.52 259.70 202.59 259.70 200.67 260.24 200.03 261.33 200.67 262.41 202.59 262.96 205.16 263.50 206.45 264.04 207.09 265.13 207.09 265.67 206.45 266.76 204.52 267.30 202.59 267.30 200.67 266.76 200.03 265.67M200.03 267.30 200.03 265.13M200.03 261.33 200.67 261.87 202.59 262.41 205.16 262.96 206.45 263.50 207.09 264.59M211.07 259.70 211.07 267.30M211.71 259.70 211.71 267.30M209.78 259.70 211.71 259.70M209.78 267.30 212.99 267.30M219.22 259.70 217.29 260.24 216.01 261.33 215.37 262.96 215.37 264.04 216.01 265.67 217.29 266.76 219.22 267.30 220.50 267.30 222.43 266.76 223.71 265.67 224.36 264.04 224.36 262.96 223.71 261.33 222.43 260.24 220.50 259.70 219.22 259.70M219.22 259.70 217.94 260.24 216.65 261.33 216.01 262.96 216.01 264.04 216.65 265.67 217.94 266.76 219.22 267.30M220.50 267.30 221.79 266.76 223.07 265.67 223.71 264.04 223.71 262.96 223.07 261.33 221.79 260.24 220.50 259.70M228.27 259.70 228.27 267.30M228.91 259.70 228.91 267.30M228.91 261.87 230.20 260.24 232.12 259.70 233.41 259.70 235.33 260.24 235.97 261.87 235.97 267.30M233.41 259.70 234.69 260.24 235.33 261.87 235.33 267.30M226.35 259.70 228.91 259.70M226.35 267.30 230.84 267.30M233.41 267.30 237.90 267.30" fill="none" stroke="#000" stroke-width="0.8" stroke-linecap="round" stroke-linejoin="round"/><circle cx="98.47" cy="256.44" r="1.05" fill="#000"/><circle cx="211.39" cy="256.44" r="1.05" fill="#000"/>
<path d="M2.60 178.78 15.20 178.78M2.60 178.14 15.20 178.14M2.60 180.70 2.60 173.65 3.20 171.73 4.40 170.45 5.60 169.80 7.40 169.16 10.40 169.16 12.20 169.80 13.40 170.45 14.60 171.73 15.20 173.65 15.20 180.70M2.60 173.65 3.20 172.37 4.40 171.09 5.60 170.45 7.40 169.80 10.40 169.80 12.20 170.45 13.40 171.09 14.60 172.37 15.20 173.65M10.40 166.15 10.40 159.10 9.20 159.10 8.00 159.74 7.40 160.38 6.80 162.31 6.80 163.59 7.40 165.51 8.60 166.15 10.40 166.79 11.60 166.79 13.40 166.15 14.60 164.87 15.20 163.59 15.20 162.31 14.60 160.38 13.40 159.10M10.40 159.74 8.60 159.74 7.40 160.38M6.80 163.59 7.40 164.87 8.60 165.51 10.40 166.15 11.60 166.15 13.40 165.51 14.60 164.23 15.20 163.59M8.60 149.87 9.20 150.51 9.80 149.87 9.20 149.23 8.60 149.23 7.40 150.51 6.80 151.80 6.80 153.08 7.40 155.00 8.60 155.64 10.40 156.28 11.60 156.28 13.40 155.64 14.60 154.36 15.20 153.08 15.20 151.80 14.60 149.87 13.40 148.59M6.80 153.08 7.40 154.36 8.60 155.00 10.40 155.64 11.60 155.64 13.40 155.00 14.60 153.72 15.20 153.08M2.60 144.94 15.20 144.94M2.60 144.30 15.20 144.30M2.60 146.22 2.60 144.30M15.20 146.22 15.20 143.02M6.80 139.04 15.20 139.04M6.80 138.40 15.20 138.40M6.80 140.32 6.80 138.40M15.20 140.32 15.20 137.12M6.80 133.02 15.20 133.02M6.80 132.38 15.20 132.38M9.20 132.38 7.40 131.10 6.80 129.17 6.80 127.89 7.40 125.97 9.20 125.33 15.20 125.33M6.80 127.89 7.40 126.61 9.20 125.97 15.20 125.97M6.80 134.94 6.80 132.38M15.20 134.94 15.20 130.45M15.20 127.89 15.20 123.40M8.00 119.88 8.60 119.88 8.60 119.24 8.00 119.24 7.40 119.88 6.80 118.60 6.80 116.03 7.40 114.75 8.00 114.11 9.20 113.47 13.40 113.47 14.60 112.83 15.20 112.19M8.00 114.11 13.40 114.11 14.60 113.47 15.20 112.19 15.20 111.55M9.20 114.11 9.80 114.75 10.40 118.60 11.00 120.52 12.20 121.16 13.40 121.16 14.60 120.52 15.20 118.60 15.20 116.68 14.60 115.39 13.40 114.11M10.40 118.60 11.00 119.88 12.20 120.52 13.40 120.52 14.60 119.88 15.20 118.60M3.80 108.41 12.80 108.41 14.60 107.77 15.20 106.49 15.20 105.20 14.60 103.92 13.40 103.28M3.80 107.77 13.40 107.77 14.60 107.13 15.20 106.49M6.80 110.33 6.80 105.20M6.80 100.59 15.20 100.59M6.80 99.95 15.20 99.95M6.80 101.87 6.80 99.95M15.20 101.87 15.20 98.67M6.80 92.45 7.40 94.37 8.60 95.65 10.40 96.30 11.60 96.30 13.40 95.65 14.60 94.37 15.20 92.45 15.20 91.17 14.60 89.25 13.40 87.96 11.60 87.32 10.40 87.32 8.60 87.96 7.40 89.25 6.80 91.17 6.80 92.45M6.80 92.45 7.40 93.73 8.60 95.01 10.40 95.65 11.60 95.65 13.40 95.01 14.60 93.73 15.20 92.45M15.20 91.17 14.60 89.89 13.40 88.60 11.60 87.96 10.40 87.96 8.60 88.60 7.40 89.89 6.80 91.17M6.80 83.41 15.20 83.41M6.80 82.77 15.20 82.77M9.20 82.77 7.40 81.49 6.80 79.57 6.80 78.29 7.40 76.36 9.20 75.72 15.20 75.72M6.80 78.29 7.40 77.00 9.20 76.36 15.20 76.36M6.80 85.34 6.80 82.77M15.20 85.34 15.20 80.85M15.20 78.29 15.20 73.80" fill="none" stroke="#000" stroke-width="0.8" stroke-linecap="round" stroke-linejoin="round"/><circle cx="3.20" cy="138.72" r="1.05" fill="#000"/><circle cx="3.20" cy="100.27" r="1.05" fill="#000"/>
<path d="M329.85 45.04 328.07 45.59 326.89 47.25 326.30 50.01 326.30 51.67 326.89 54.43 328.07 56.09 329.85 56.64 331.03 56.64 332.80 56.09 333.98 54.43 334.57 51.67 334.57 50.01 333.98 47.25 332.80 45.59 331.03 45.04 329.85 45.04M328.07 45.59 327.48 46.70 326.89 48.91 326.89 52.77 327.48 54.98 328.07 56.09M332.80 56.09 333.39 54.98 333.98 52.77 333.98 48.91 333.39 46.70 332.80 45.59M348.75 46.14 348.75 56.64M349.35 45.04 349.35 56.64M349.35 45.04 342.85 52.77 352.30 52.77M346.98 56.64 351.12 56.64" fill="none" stroke="#000" stroke-width="0.8" stroke-linecap="round" stroke-linejoin="round"/><circle cx="339.00" cy="56.09" r="1.05" fill="#000"/>
<path d="M329.93 83.12 328.11 83.67 326.90 85.33 326.30 88.09 326.30 89.75 326.90 92.51 328.11 94.17 329.93 94.72 331.14 94.72 332.95 94.17 334.16 92.51 334.77 89.75 334.77 88.09 334.16 85.33 332.95 83.67 331.14 83.12 329.93 83.12M328.11 83.67 327.51 84.78 326.90 86.99 326.90 90.85 327.51 93.06 328.11 94.17M332.95 94.17 333.56 93.06 334.16 90.85 334.16 86.99 333.56 84.78 332.95 83.67M344.44 85.33 345.04 85.88 344.44 86.43 343.83 85.88 343.83 85.33 344.44 84.22 345.04 83.67 346.86 83.12 349.28 83.12 351.09 83.67 351.70 84.22 352.30 85.33 352.30 86.43 351.70 87.54 349.88 88.64 346.86 89.75 345.65 90.30 344.44 91.41 343.83 93.06 343.83 94.72M349.28 83.12 350.49 83.67 351.09 84.22 351.70 85.33 351.70 86.43 351.09 87.54 349.28 88.64 346.86 89.75M343.83 93.62 344.44 93.06 345.65 93.06 348.67 94.17 350.49 94.17 351.70 93.62 352.30 92.51M345.65 93.06 348.67 94.72 351.09 94.72 351.70 94.17 352.30 92.51 352.30 91.41" fill="none" stroke="#000" stroke-width="0.8" stroke-linecap="round" stroke-linejoin="round"/><circle cx="339.30" cy="94.17" r="1.05" fill="#000"/>
<path d="M347.61 121.20 345.86 121.75 344.69 123.41 344.10 126.17 344.10 127.83 344.69 130.59 345.86 132.25 347.61 132.80 348.79 132.80 350.54 132.25 351.71 130.59 352.30 127.83 352.30 126.17 351.71 123.41 350.54 121.75 348.79 121.20 347.61 121.20M345.86 121.75 345.27 122.86 344.69 125.07 344.69 128.93 345.27 131.14 345.86 132.25M350.54 132.25 351.13 131.14 351.71 128.93 351.71 125.07 351.13 122.86 350.54 121.75" fill="none" stroke="#000" stroke-width="0.8" stroke-linecap="round" stroke-linejoin="round"/>
<path d="M312.50 165.08 323.04 165.08M330.64 159.28 328.89 159.83 327.72 161.49 327.13 164.25 327.13 165.91 327.72 168.67 328.89 170.33 330.64 170.88 331.81 170.88 333.57 170.33 334.74 168.67 335.33 165.91 335.33 164.25 334.74 161.49 333.57 159.83 331.81 159.28 330.64 159.28M328.89 159.83 328.30 160.94 327.72 163.15 327.72 167.01 328.30 169.22 328.89 170.33M333.57 170.33 334.16 169.22 334.74 167.01 334.74 163.15 334.16 160.94 333.57 159.83M344.69 161.49 345.28 162.04 344.69 162.59 344.11 162.04 344.11 161.49 344.69 160.38 345.28 159.83 347.03 159.28 349.37 159.28 351.13 159.83 351.71 160.38 352.30 161.49 352.30 162.59 351.71 163.70 349.96 164.80 347.03 165.91 345.86 166.46 344.69 167.57 344.11 169.22 344.11 170.88M349.37 159.28 350.54 159.83 351.13 160.38 351.71 161.49 351.71 162.59 351.13 163.70 349.37 164.80 347.03 165.91M344.11 169.78 344.69 169.22 345.86 169.22 348.79 170.33 350.54 170.33 351.71 169.78 352.30 168.67M345.86 169.22 348.79 170.88 351.13 170.88 351.71 170.33 352.30 168.67 352.30 167.57" fill="none" stroke="#000" stroke-width="0.8" stroke-linecap="round" stroke-linejoin="round"/><circle cx="339.72" cy="170.33" r="1.05" fill="#000"/>
<path d="M312.50 203.16 322.88 203.16M330.38 197.36 328.65 197.91 327.50 199.57 326.92 202.33 326.92 203.99 327.50 206.75 328.65 208.41 330.38 208.96 331.53 208.96 333.27 208.41 334.42 206.75 335.00 203.99 335.00 202.33 334.42 199.57 333.27 197.91 331.53 197.36 330.38 197.36M328.65 197.91 328.07 199.02 327.50 201.23 327.50 205.09 328.07 207.30 328.65 208.41M333.27 208.41 333.84 207.30 334.42 205.09 334.42 201.23 333.84 199.02 333.27 197.91M348.84 198.46 348.84 208.96M349.42 197.36 349.42 208.96M349.42 197.36 343.07 205.09 352.30 205.09M347.11 208.96 351.15 208.96" fill="none" stroke="#000" stroke-width="0.8" stroke-linecap="round" stroke-linejoin="round"/><circle cx="339.32" cy="208.41" r="1.05" fill="#000"/>
<path d="M37.75 327.04 35.97 327.59 34.79 329.25 34.20 332.01 34.20 333.67 34.79 336.43 35.97 338.09 37.75 338.64 38.93 338.64 40.70 338.09 41.88 336.43 42.47 333.67 42.47 332.01 41.88 329.25 40.70 327.59 38.93 327.04 37.75 327.04M35.97 327.59 35.38 328.70 34.79 330.91 34.79 334.77 35.38 336.98 35.97 338.09M40.70 338.09 41.29 336.98 41.88 334.77 41.88 330.91 41.29 328.70 40.70 327.59M56.65 328.14 56.65 338.64M57.25 327.04 57.25 338.64M57.25 327.04 50.75 334.77 60.20 334.77M54.88 338.64 59.02 338.64" fill="none" stroke="#000" stroke-width="0.8" stroke-linecap="round" stroke-linejoin="round"/><circle cx="46.90" cy="338.09" r="1.05" fill="#000"/>
<path d="M37.83 365.12 36.01 365.67 34.80 367.33 34.20 370.09 34.20 371.75 34.80 374.51 36.01 376.17 37.83 376.72 39.04 376.72 40.85 376.17 42.06 374.51 42.67 371.75 42.67 370.09 42.06 367.33 40.85 365.67 39.04 365.12 37.83 365.12M36.01 365.67 35.41 366.78 34.80 368.99 34.80 372.85 35.41 375.06 36.01 376.17M40.85 376.17 41.46 375.06 42.06 372.85 42.06 368.99 41.46 366.78 40.85 365.67M52.34 367.33 52.94 367.88 52.34 368.43 51.73 367.88 51.73 367.33 52.34 366.22 52.94 365.67 54.76 365.12 57.18 365.12 58.99 365.67 59.60 366.22 60.20 367.33 60.20 368.43 59.60 369.54 57.78 370.64 54.76 371.75 53.55 372.30 52.34 373.41 51.73 375.06 51.73 376.72M57.18 365.12 58.39 365.67 58.99 366.22 59.60 367.33 59.60 368.43 58.99 369.54 57.18 370.64 54.76 371.75M51.73 375.62 52.34 375.06 53.55 375.06 56.57 376.17 58.39 376.17 59.60 375.62 60.20 374.51M53.55 375.06 56.57 376.72 58.99 376.72 59.60 376.17 60.20 374.51 60.20 373.41" fill="none" stroke="#000" stroke-width="0.8" stroke-linecap="round" stroke-linejoin="round"/><circle cx="47.20" cy="376.17" r="1.05" fill="#000"/>
<path d="M55.51 403.20 53.76 403.75 52.59 405.41 52.00 408.17 52.00 409.83 52.59 412.59 53.76 414.25 55.51 414.80 56.69 414.80 58.44 414.25 59.61 412.59 60.20 409.83 60.20 408.17 59.61 405.41 58.44 403.75 56.69 403.20 55.51 403.20M53.76 403.75 53.17 404.86 52.59 407.07 52.59 410.93 53.17 413.14 53.76 414.25M58.44 414.25 59.03 413.14 59.61 410.93 59.61 407.07 59.03 404.86 58.44 403.75" fill="none" stroke="#000" stroke-width="0.8" stroke-linecap="round" stroke-linejoin="round"/>
<path d="M20.40 447.08 30.94 447.08M38.54 441.28 36.79 441.83 35.62 443.49 35.03 446.25 35.03 447.91 35.62 450.67 36.79 452.33 38.54 452.88 39.71 452.88 41.47 452.33 42.64 450.67 43.23 447.91 43.23 446.25 42.64 443.49 41.47 441.83 39.71 441.28 38.54 441.28M36.79 441.83 36.20 442.94 35.62 445.15 35.62 449.01 36.20 451.22 36.79 452.33M41.47 452.33 42.06 451.22 42.64 449.01 42.64 445.15 42.06 442.94 41.47 441.83M52.59 443.49 53.18 444.04 52.59 444.59 52.01 444.04 52.01 443.49 52.59 442.38 53.18 441.83 54.93 441.28 57.27 441.28 59.03 441.83 59.61 442.38 60.20 443.49 60.20 444.59 59.61 445.70 57.86 446.80 54.93 447.91 53.76 448.46 52.59 449.57 52.01 451.22 52.01 452.88M57.27 441.28 58.44 441.83 59.03 442.38 59.61 443.49 59.61 444.59 59.03 445.70 57.27 446.80 54.93 447.91M52.01 451.78 52.59 451.22 53.76 451.22 56.69 452.33 58.44 452.33 59.61 451.78 60.20 450.67M53.76 451.22 56.69 452.88 59.03 452.88 59.61 452.33 60.20 450.67 60.20 449.57" fill="none" stroke="#000" stroke-width="0.8" stroke-linecap="round" stroke-linejoin="round"/><circle cx="47.62" cy="452.33" r="1.05" fill="#000"/>
<path d="M20.40 485.16 30.78 485.16M38.28 479.36 36.55 479.91 35.40 481.57 34.82 484.33 34.82 485.99 35.40 488.75 36.55 490.41 38.28 490.96 39.43 490.96 41.17 490.41 42.32 488.75 42.90 485.99 42.90 484.33 42.32 481.57 41.17 479.91 39.43 479.36 38.28 479.36M36.55 479.91 35.97 481.02 35.40 483.23 35.40 487.09 35.97 489.30 36.55 490.41M41.17 490.41 41.74 489.30 42.32 487.09 42.32 483.23 41.74 481.02 41.17 479.91M56.74 480.46 56.74 490.96M57.32 479.36 57.32 490.96M57.32 479.36 50.97 487.09 60.20 487.09M55.01 490.96 59.05 490.96" fill="none" stroke="#000" stroke-width="0.8" stroke-linecap="round" stroke-linejoin="round"/><circle cx="47.22" cy="490.41" r="1.05" fill="#000"/>
<path d="M329.85 327.04 328.07 327.59 326.89 329.25 326.30 332.01 326.30 333.67 326.89 336.43 328.07 338.09 329.85 338.64 331.03 338.64 332.80 338.09 333.98 336.43 334.57 333.67 334.57 332.01 333.98 329.25 332.80 327.59 331.03 327.04 329.85 327.04M328.07 327.59 327.48 328.70 326.89 330.91 326.89 334.77 327.48 336.98 328.07 338.09M332.80 338.09 333.39 336.98 333.98 334.77 333.98 330.91 333.39 328.70 332.80 327.59M348.75 328.14 348.75 338.64M349.35 327.04 349.35 338.64M349.35 327.04 342.85 334.77 352.30 334.77M346.98 338.64 351.12 338.64" fill="none" stroke="#000" stroke-width="0.8" stroke-linecap="round" stroke-linejoin="round"/><circle cx="339.00" cy="338.09" r="1.05" fill="#000"/>
<path d="M329.93 365.12 328.11 365.67 326.90 367.33 326.30 370.09 326.30 371.75 326.90 374.51 328.11 376.17 329.93 376.72 331.14 376.72 332.95 376.17 334.16 374.51 334.77 371.75 334.77 370.09 334.16 367.33 332.95 365.67 331.14 365.12 329.93 365.12M328.11 365.67 327.51 366.78 326.90 368.99 326.90 372.85 327.51 375.06 328.11 376.17M332.95 376.17 333.56 375.06 334.16 372.85 334.16 368.99 333.56 366.78 332.95 365.67M344.44 367.33 345.04 367.88 344.44 368.43 343.83 367.88 343.83 367.33 344.44 366.22 345.04 365.67 346.86 365.12 349.28 365.12 351.09 365.67 351.70 366.22 352.30 367.33 352.30 368.43 351.70 369.54 349.88 370.64 346.86 371.75 345.65 372.30 344.44 373.41 343.83 375.06 343.83 376.72M349.28 365.12 350.49 365.67 351.09 366.22 351.70 367.33 351.70 368.43 351.09 369.54 349.28 370.64 346.86 371.75M343.83 375.62 344.44 375.06 345.65 375.06 348.67 376.17 350.49 376.17 351.70 375.62 352.30 374.51M345.65 375.06 348.67 376.72 351.09 376.72 351.70 376.17 352.30 374.51 352.30 373.41" fill="none" stroke="#000" stroke-width="0.8" stroke-linecap="round" stroke-linejoin="round"/><circle cx="339.30" cy="376.17" r="1.05" fill="#000"/>
<path d="M347.61 403.20 345.86 403.75 344.69 405.41 344.10 408.17 344.10 409.83 344.69 412.59 345.86 414.25 347.61 414.80 348.79 414.80 350.54 414.25 351.71 412.59 352.30 409.83 352.30 408.17 351.71 405.41 350.54 403.75 348.79 403.20 347.61 403.20M345.86 403.75 345.27 404.86 344.69 407.07 344.69 410.93 345.27 413.14 345.86 414.25M350.54 414.25 351.13 413.14 351.71 410.93 351.71 407.07 351.13 404.86 350.54 403.75" fill="none" stroke="#000" stroke-width="0.8" stroke-linecap="round" stroke-linejoin="round"/>
<path d="M312.50 447.08 323.04 447.08M330.64 441.28 328.89 441.83 327.72 443.49 327.13 446.25 327.13 447.91 327.72 450.67 328.89 452.33 330.64 452.88 331.81 452.88 333.57 452.33 334.74 450.67 335.33 447.91 335.33 446.25 334.74 443.49 333.57 441.83 331.81 441.28 330.64 441.28M328.89 441.83 328.30 442.94 327.72 445.15 327.72 449.01 328.30 451.22 328.89 452.33M333.57 452.33 334.16 451.22 334.74 449.01 334.74 445.15 334.16 442.94 333.57 441.83M344.69 443.49 345.28 444.04 344.69 444.59 344.11 444.04 344.11 443.49 344.69 442.38 345.28 441.83 347.03 441.28 349.37 441.28 351.13 441.83 351.71 442.38 352.30 443.49 352.30 444.59 351.71 445.70 349.96 446.80 347.03 447.91 345.86 448.46 344.69 449.57 344.11 451.22 344.11 452.88M349.37 441.28 350.54 441.83 351.13 442.38 351.71 443.49 351.71 444.59 351.13 445.70 349.37 446.80 347.03 447.91M344.11 451.78 344.69 451.22 345.86 451.22 348.79 452.33 350.54 452.33 351.71 451.78 352.30 450.67M345.86 451.22 348.79 452.88 351.13 452.88 351.71 452.33 352.30 450.67 352.30 449.57" fill="none" stroke="#000" stroke-width="0.8" stroke-linecap="round" stroke-linejoin="round"/><circle cx="339.72" cy="452.33" r="1.05" fill="#000"/>
<path d="M312.50 485.16 322.88 485.16M330.38 479.36 328.65 479.91 327.50 481.57 326.92 484.33 326.92 485.99 327.50 488.75 328.65 490.41 330.38 490.96 331.53 490.96 333.27 490.41 334.42 488.75 335.00 485.99 335.00 484.33 334.42 481.57 333.27 479.91 331.53 479.36 330.38 479.36M328.65 479.91 328.07 481.02 327.50 483.23 327.50 487.09 328.07 489.30 328.65 490.41M333.27 490.41 333.84 489.30 334.42 487.09 334.42 483.23 333.84 481.02 333.27 479.91M348.84 480.46 348.84 490.96M349.42 479.36 349.42 490.96M349.42 479.36 343.07 487.09 352.30 487.09M347.11 490.96 351.15 490.96" fill="none" stroke="#000" stroke-width="0.8" stroke-linecap="round" stroke-linejoin="round"/><circle cx="339.32" cy="490.41" r="1.05" fill="#000"/>
<path d="M287.30 138.10 299.40 142.80M287.30 138.10 299.40 133.40M289.03 138.10 299.40 133.99M299.40 142.80 299.40 133.40M298.82 142.21 298.82 133.99M287.30 129.76 299.40 129.76M287.30 129.18 299.40 129.18M287.30 131.53 287.30 125.07 287.88 123.31 288.45 122.72 289.60 122.13 290.76 122.13 291.91 122.72 292.49 123.31 293.06 125.07 293.06 129.18M287.30 125.07 287.88 123.89 288.45 123.31 289.60 122.72 290.76 122.72 291.91 123.31 292.49 123.89 293.06 125.07M293.06 126.83 293.64 125.65 294.21 125.07 298.25 123.89 298.82 123.31 298.82 122.72 298.25 122.13M293.64 125.65 294.79 125.07 298.82 124.48 299.40 123.89 299.40 122.72 298.25 122.13 297.67 122.13M299.40 131.53 299.40 127.42M287.30 115.08 299.40 119.20M287.30 115.08 299.40 110.97M289.03 115.08 299.40 111.56M295.94 117.43 295.94 112.15M299.40 120.37 299.40 116.85M299.40 113.32 299.40 109.80" fill="none" stroke="#000" stroke-width="0.8" stroke-linecap="round" stroke-linejoin="round"/>
<path d="M3.10 425.18 15.40 430.20M3.10 425.18 15.40 420.15M4.86 425.18 15.40 420.78M15.40 430.20 15.40 420.15M14.81 429.57 14.81 420.78M3.10 416.88 15.40 416.88M3.10 416.26 15.40 416.26M3.10 418.77 3.10 411.86 3.69 409.97 4.86 408.72 6.03 408.09 7.79 407.46 10.71 407.46 12.47 408.09 13.64 408.72 14.81 409.97 15.40 411.86 15.40 418.77M3.10 411.86 3.69 410.60 4.86 409.35 6.03 408.72 7.79 408.09 10.71 408.09 12.47 408.72 13.64 409.35 14.81 410.60 15.40 411.86M10.71 404.51 10.71 397.60 9.54 397.60 8.37 398.23 7.79 398.86 7.20 400.74 7.20 402.00 7.79 403.88 8.96 404.51 10.71 405.14 11.89 405.14 13.64 404.51 14.81 403.25 15.40 402.00 15.40 400.74 14.81 398.86 13.64 397.60M10.71 398.23 8.96 398.23 7.79 398.86M7.20 402.00 7.79 403.25 8.96 403.88 10.71 404.51 11.89 404.51 13.64 403.88 14.81 402.63 15.40 402.00M8.96 388.56 9.54 389.18 10.13 388.56 9.54 387.93 8.96 387.93 7.79 389.18 7.20 390.44 7.20 391.70 7.79 393.58 8.96 394.21 10.71 394.84 11.89 394.84 13.64 394.21 14.81 392.95 15.40 391.70 15.40 390.44 14.81 388.56 13.64 387.30M7.20 391.70 7.79 392.95 8.96 393.58 10.71 394.21 11.89 394.21 13.64 393.58 14.81 392.32 15.40 391.70" fill="none" stroke="#000" stroke-width="0.8" stroke-linecap="round" stroke-linejoin="round"/>
<path d="M287.30 425.18 299.40 430.20M287.30 425.18 299.40 420.15M289.03 425.18 299.40 420.78M299.40 430.20 299.40 420.15M298.82 429.57 298.82 420.78M287.30 416.88 299.40 416.88M287.30 416.26 299.40 416.26M287.30 418.77 287.30 411.86 287.88 409.97 289.03 408.72 290.18 408.09 291.91 407.46 294.79 407.46 296.52 408.09 297.67 408.72 298.82 409.97 299.40 411.86 299.40 418.77M287.30 411.86 287.88 410.60 289.03 409.35 290.18 408.72 291.91 408.09 294.79 408.09 296.52 408.72 297.67 409.35 298.82 410.60 299.40 411.86M294.79 404.51 294.79 397.60 293.64 397.60 292.49 398.23 291.91 398.86 291.33 400.74 291.33 402.00 291.91 403.88 293.06 404.51 294.79 405.14 295.94 405.14 297.67 404.51 298.82 403.25 299.40 402.00 299.40 400.74 298.82 398.86 297.67 397.60M294.79 398.23 293.06 398.23 291.91 398.86M291.33 402.00 291.91 403.25 293.06 403.88 294.79 404.51 295.94 404.51 297.67 403.88 298.82 402.63 299.40 402.00M293.06 388.56 293.64 389.18 294.21 388.56 293.64 387.93 293.06 387.93 291.91 389.18 291.33 390.44 291.33 391.70 291.91 393.58 293.06 394.21 294.79 394.84 295.94 394.84 297.67 394.21 298.82 392.95 299.40 391.70 299.40 390.44 298.82 388.56 297.67 387.30M291.33 391.70 291.91 392.95 293.06 393.58 294.79 394.21 295.94 394.21 297.67 393.58 298.82 392.32 299.40 391.70" fill="none" stroke="#000" stroke-width="0.8" stroke-linecap="round" stroke-linejoin="round"/>
<path d="M402.46 19.43 396.42 19.43 394.61 19.98 393.40 21.62 392.80 23.27 392.80 24.91 393.40 26.00 394.01 26.55 395.21 27.10 396.42 27.10 398.23 26.55 399.44 24.91 400.04 23.27 400.04 21.62 399.44 20.53 398.84 19.98 397.63 19.43M396.42 19.43 395.21 19.98 394.01 21.62 393.40 23.27 393.40 25.46 394.01 26.55M398.23 26.55 398.84 24.91 399.44 23.27 399.44 21.08 398.84 19.98M410.49 13.41 409.28 14.50 408.07 16.15 406.87 18.34 406.26 21.08 406.26 23.27 406.87 26.00 408.07 28.20 409.28 29.84 410.49 30.93M409.28 14.50 408.07 16.70 407.47 18.34 406.87 21.08 406.87 23.27 407.47 26.00 408.07 27.65 409.28 29.84M414.35 15.60 414.35 27.10M414.96 15.60 414.96 27.10M412.54 15.60 419.18 15.60 420.99 16.15 421.60 16.70 422.20 17.79 422.20 18.89 421.60 19.98 420.99 20.53 419.18 21.08 414.96 21.08M419.18 15.60 420.39 16.15 420.99 16.70 421.60 17.79 421.60 18.89 420.99 19.98 420.39 20.53 419.18 21.08M417.37 21.08 418.58 21.62 419.18 22.17 420.39 26.00 420.99 26.55 421.60 26.55 422.20 26.00M418.58 21.62 419.18 22.72 419.79 26.55 420.39 27.10 421.60 27.10 422.20 26.00 422.20 25.46M412.54 27.10 416.77 27.10M429.45 15.60 425.22 27.10M429.45 15.60 433.67 27.10M429.45 17.24 433.07 27.10M427.03 23.81 432.46 23.81M424.01 27.10 427.63 27.10M431.26 27.10 434.88 27.10M437.84 13.41 439.04 14.50 440.25 16.15 441.46 18.34 442.06 21.08 442.06 23.27 441.46 26.00 440.25 28.20 439.04 29.84 437.84 30.93M439.04 14.50 440.25 16.70 440.86 18.34 441.46 21.08 441.46 23.27 440.86 26.00 440.25 27.65 439.04 29.84M445.56 19.71 455.83 19.71M445.56 24.09 455.83 24.09M463.37 15.60 461.56 16.15 460.36 17.79 459.75 20.53 459.75 22.17 460.36 24.91 461.56 26.55 463.37 27.10 464.58 27.10 466.39 26.55 467.60 24.91 468.20 22.17 468.20 20.53 467.60 17.79 466.39 16.15 464.58 15.60 463.37 15.60M461.56 16.15 460.96 17.24 460.36 19.43 460.36 23.27 460.96 25.46 461.56 26.55M466.39 26.55 467.00 25.46 467.60 23.27 467.60 19.43 467.00 17.24 466.39 16.15M480.88 15.60 479.07 16.15 477.86 17.79 477.26 20.53 477.26 22.17 477.86 24.91 479.07 26.55 480.88 27.10 482.09 27.10 483.90 26.55 485.11 24.91 485.71 22.17 485.71 20.53 485.11 17.79 483.90 16.15 482.09 15.60 480.88 15.60M479.07 16.15 478.47 17.24 477.86 19.43 477.86 23.27 478.47 25.46 479.07 26.55M483.90 26.55 484.50 25.46 485.11 23.27 485.11 19.43 484.50 17.24 483.90 16.15M489.94 17.79 490.54 18.34 489.94 18.89 489.33 18.34 489.33 17.79 489.94 16.70 490.54 16.15 492.35 15.60 494.77 15.60 496.58 16.15 497.18 17.24 497.18 18.89 496.58 19.98 494.77 20.53 492.96 20.53M494.77 15.60 495.98 16.15 496.58 17.24 496.58 18.89 495.98 19.98 494.77 20.53M494.77 20.53 495.98 21.08 497.18 22.17 497.79 23.27 497.79 24.91 497.18 26.00 496.58 26.55 494.77 27.10 492.35 27.10 490.54 26.55 489.94 26.00 489.33 24.91 489.33 24.36 489.94 23.81 490.54 24.36 489.94 24.91M496.58 21.62 497.18 23.27 497.18 24.91 496.58 26.00 495.98 26.55 494.77 27.10M503.22 17.79 504.43 17.24 506.24 15.60 506.24 27.10M505.63 16.15 505.63 27.10M503.22 27.10 508.35 27.10M512.58 13.96 511.67 18.06M513.18 13.96 511.67 18.06M515.60 13.96 514.39 18.06M516.20 13.96 514.39 18.06" fill="none" stroke="#f00" stroke-width="0.8" stroke-linecap="round" stroke-linejoin="round"/><circle cx="472.73" cy="26.55" r="1.05" fill="#f00"/>
<path d="M116.46 301.33 110.42 301.33 108.61 301.88 107.40 303.52 106.80 305.17 106.80 306.81 107.40 307.90 108.01 308.45 109.21 309.00 110.42 309.00 112.23 308.45 113.44 306.81 114.04 305.17 114.04 303.52 113.44 302.43 112.84 301.88 111.63 301.33M110.42 301.33 109.21 301.88 108.01 303.52 107.40 305.17 107.40 307.36 108.01 308.45M112.23 308.45 112.84 306.81 113.44 305.17 113.44 302.98 112.84 301.88M124.49 295.31 123.28 296.40 122.07 298.05 120.87 300.24 120.26 302.98 120.26 305.17 120.87 307.90 122.07 310.10 123.28 311.74 124.49 312.83M123.28 296.40 122.07 298.60 121.47 300.24 120.87 302.98 120.87 305.17 121.47 307.90 122.07 309.55 123.28 311.74M128.05 301.33 128.05 309.00M128.65 301.33 128.65 309.00M128.65 304.62 129.26 302.98 130.46 301.88 131.67 301.33 133.48 301.33 134.09 301.88 134.09 302.43 133.48 302.98 132.88 302.43 133.48 301.88M126.24 301.33 128.65 301.33M126.24 309.00 130.46 309.00M137.35 295.31 138.55 296.40 139.76 298.05 140.97 300.24 141.57 302.98 141.57 305.17 140.97 307.90 139.76 310.10 138.55 311.74 137.35 312.83M138.55 296.40 139.76 298.60 140.36 300.24 140.97 302.98 140.97 305.17 140.36 307.90 139.76 309.55 138.55 311.74M145.07 301.61 155.33 301.61M145.07 305.99 155.33 305.99M162.88 297.50 161.07 298.05 159.86 299.69 159.26 302.43 159.26 304.07 159.86 306.81 161.07 308.45 162.88 309.00 164.09 309.00 165.90 308.45 167.11 306.81 167.71 304.07 167.71 302.43 167.11 299.69 165.90 298.05 164.09 297.50 162.88 297.50M161.07 298.05 160.47 299.14 159.86 301.33 159.86 305.17 160.47 307.36 161.07 308.45M165.90 308.45 166.50 307.36 167.11 305.17 167.11 301.33 166.50 299.14 165.90 298.05M180.39 297.50 178.57 298.05 177.37 299.69 176.76 302.43 176.76 304.07 177.37 306.81 178.57 308.45 180.39 309.00 181.59 309.00 183.40 308.45 184.61 306.81 185.22 304.07 185.22 302.43 184.61 299.69 183.40 298.05 181.59 297.50 180.39 297.50M178.57 298.05 177.97 299.14 177.37 301.33 177.37 305.17 177.97 307.36 178.57 308.45M183.40 308.45 184.01 307.36 184.61 305.17 184.61 301.33 184.01 299.14 183.40 298.05M190.04 297.50 188.84 302.98M188.84 302.98 190.04 301.88 191.86 301.33 193.67 301.33 195.48 301.88 196.68 302.98 197.29 304.62 197.29 305.71 196.68 307.36 195.48 308.45 193.67 309.00 191.86 309.00 190.04 308.45 189.44 307.90 188.84 306.81 188.84 306.26 189.44 305.71 190.04 306.26 189.44 306.81M193.67 301.33 194.87 301.88 196.08 302.98 196.68 304.62 196.68 305.71 196.08 307.36 194.87 308.45 193.67 309.00M190.04 297.50 196.08 297.50M190.04 298.05 193.06 298.05 196.08 297.50M204.53 297.50 202.72 298.05 201.51 299.69 200.91 302.43 200.91 304.07 201.51 306.81 202.72 308.45 204.53 309.00 205.74 309.00 207.55 308.45 208.76 306.81 209.36 304.07 209.36 302.43 208.76 299.69 207.55 298.05 205.74 297.50 204.53 297.50M202.72 298.05 202.12 299.14 201.51 301.33 201.51 305.17 202.12 307.36 202.72 308.45M207.55 308.45 208.15 307.36 208.76 305.17 208.76 301.33 208.15 299.14 207.55 298.05M212.08 295.86 211.17 299.96M212.68 295.86 211.17 299.96M215.10 295.86 213.89 299.96M215.70 295.86 213.89 299.96" fill="none" stroke="#f00" stroke-width="0.8" stroke-linecap="round" stroke-linejoin="round"/><circle cx="172.24" cy="308.45" r="1.05" fill="#f00"/>
<path d="M397.73 301.33 391.65 301.33 389.82 301.88 388.61 303.52 388.00 305.17 388.00 306.81 388.61 307.90 389.22 308.45 390.43 309.00 391.65 309.00 393.47 308.45 394.69 306.81 395.30 305.17 395.30 303.52 394.69 302.43 394.08 301.88 392.87 301.33M391.65 301.33 390.43 301.88 389.22 303.52 388.61 305.17 388.61 307.36 389.22 308.45M393.47 308.45 394.08 306.81 394.69 305.17 394.69 302.98 394.08 301.88M405.82 295.31 404.61 296.40 403.39 298.05 402.17 300.24 401.56 302.98 401.56 305.17 402.17 307.90 403.39 310.10 404.61 311.74 405.82 312.83M404.61 296.40 403.39 298.60 402.78 300.24 402.17 302.98 402.17 305.17 402.78 307.90 403.39 309.55 404.61 311.74M409.11 297.50 409.11 309.00M409.72 297.50 409.72 309.00M407.28 297.50 413.97 297.50 415.80 298.05 417.02 299.14 417.62 300.24 418.23 301.88 418.23 304.62 417.62 306.26 417.02 307.36 415.80 308.45 413.97 309.00 407.28 309.00M413.97 297.50 415.19 298.05 416.41 299.14 417.02 300.24 417.62 301.88 417.62 304.62 417.02 306.26 416.41 307.36 415.19 308.45 413.97 309.00M421.09 304.62 427.78 304.62 427.78 303.52 427.17 302.43 426.57 301.88 424.74 301.33 423.52 301.33 421.70 301.88 421.09 302.98 420.48 304.62 420.48 305.71 421.09 307.36 422.31 308.45 423.52 309.00 424.74 309.00 426.57 308.45 427.78 307.36M427.17 304.62 427.17 302.98 426.57 301.88M423.52 301.33 422.31 301.88 421.70 302.98 421.09 304.62 421.09 305.71 421.70 307.36 422.92 308.45 423.52 309.00M436.54 302.98 435.93 303.52 436.54 304.07 437.15 303.52 437.15 302.98 435.93 301.88 434.72 301.33 433.50 301.33 431.68 301.88 431.07 302.98 430.46 304.62 430.46 305.71 431.07 307.36 432.28 308.45 433.50 309.00 434.72 309.00 436.54 308.45 437.76 307.36M433.50 301.33 432.28 301.88 431.68 302.98 431.07 304.62 431.07 305.71 431.68 307.36 432.89 308.45 433.50 309.00M441.04 295.31 442.26 296.40 443.48 298.05 444.69 300.24 445.30 302.98 445.30 305.17 444.69 307.90 443.48 310.10 442.26 311.74 441.04 312.83M442.26 296.40 443.48 298.60 444.08 300.24 444.69 302.98 444.69 305.17 444.08 307.90 443.48 309.55 442.26 311.74M448.83 301.61 459.17 301.61M448.83 305.99 459.17 305.99M466.77 297.50 464.95 298.05 463.73 299.69 463.12 302.43 463.12 304.07 463.73 306.81 464.95 308.45 466.77 309.00 467.99 309.00 469.82 308.45 471.03 306.81 471.64 304.07 471.64 302.43 471.03 299.69 469.82 298.05 467.99 297.50 466.77 297.50M464.95 298.05 464.34 299.14 463.73 301.33 463.73 305.17 464.34 307.36 464.95 308.45M469.82 308.45 470.42 307.36 471.03 305.17 471.03 301.33 470.42 299.14 469.82 298.05M484.41 297.50 482.59 298.05 481.37 299.69 480.76 302.43 480.76 304.07 481.37 306.81 482.59 308.45 484.41 309.00 485.63 309.00 487.46 308.45 488.67 306.81 489.28 304.07 489.28 302.43 488.67 299.69 487.46 298.05 485.63 297.50 484.41 297.50M482.59 298.05 481.98 299.14 481.37 301.33 481.37 305.17 481.98 307.36 482.59 308.45M487.46 308.45 488.06 307.36 488.67 305.17 488.67 301.33 488.06 299.14 487.46 298.05M498.41 298.60 498.41 309.00M499.01 297.50 499.01 309.00M499.01 297.50 492.32 305.17 502.06 305.17M496.58 309.00 500.84 309.00M508.75 297.50 506.92 298.05 505.71 299.69 505.10 302.43 505.10 304.07 505.71 306.81 506.92 308.45 508.75 309.00 509.96 309.00 511.79 308.45 513.00 306.81 513.61 304.07 513.61 302.43 513.00 299.69 511.79 298.05 509.96 297.50 508.75 297.50M506.92 298.05 506.31 299.14 505.71 301.33 505.71 305.17 506.31 307.36 506.92 308.45M511.79 308.45 512.40 307.36 513.00 305.17 513.00 301.33 512.40 299.14 511.79 298.05M516.35 295.86 515.44 299.96M516.96 295.86 515.44 299.96M519.39 295.86 518.18 299.96M520.00 295.86 518.18 299.96" fill="none" stroke="#f00" stroke-width="0.8" stroke-linecap="round" stroke-linejoin="round"/><circle cx="476.20" cy="308.45" r="1.05" fill="#f00"/>
<path d="M428.89 234.82 429.49 235.40 428.89 235.99 428.30 235.40 428.30 234.82 428.89 233.66 429.49 233.08 431.27 232.50 433.64 232.50 435.42 233.08 436.02 233.66 436.61 234.82 436.61 235.99 436.02 237.15 434.24 238.31 431.27 239.47 430.08 240.05 428.89 241.21 428.30 242.96 428.30 244.70M433.64 232.50 434.83 233.08 435.42 233.66 436.02 234.82 436.02 235.99 435.42 237.15 433.64 238.31 431.27 239.47M428.30 243.54 428.89 242.96 430.08 242.96 433.05 244.12 434.83 244.12 436.02 243.54 436.61 242.38M430.08 242.96 433.05 244.70 435.42 244.70 436.02 244.12 436.61 242.38 436.61 241.21M443.73 232.50 441.95 233.08 440.77 234.82 440.17 237.73 440.17 239.47 440.77 242.38 441.95 244.12 443.73 244.70 444.92 244.70 446.70 244.12 447.89 242.38 448.48 239.47 448.48 237.73 447.89 234.82 446.70 233.08 444.92 232.50 443.73 232.50M441.95 233.08 441.36 234.24 440.77 236.57 440.77 240.63 441.36 242.96 441.95 244.12M446.70 244.12 447.30 242.96 447.89 240.63 447.89 236.57 447.30 234.24 446.70 233.08M458.58 232.50 457.39 238.31M457.39 238.31 458.58 237.15 460.36 236.57 462.14 236.57 463.92 237.15 465.11 238.31 465.70 240.05 465.70 241.21 465.11 242.96 463.92 244.12 462.14 244.70 460.36 244.70 458.58 244.12 457.98 243.54 457.39 242.38 457.39 241.80 457.98 241.21 458.58 241.80 457.98 242.38M462.14 236.57 463.33 237.15 464.51 238.31 465.11 240.05 465.11 241.21 464.51 242.96 463.33 244.12 462.14 244.70M458.58 232.50 464.51 232.50M458.58 233.08 461.54 233.08 464.51 232.50" fill="none" stroke="#000" stroke-width="0.8" stroke-linecap="round" stroke-linejoin="round"/><circle cx="452.94" cy="244.12" r="1.05" fill="#000"/>
<path d="M439.99 255.90 439.99 267.30M440.62 255.90 440.62 267.30M438.10 255.90 445.04 255.90 446.93 256.44 448.19 257.53 448.82 258.61 449.45 260.24 449.45 262.96 448.82 264.59 448.19 265.67 446.93 266.76 445.04 267.30 438.10 267.30M445.04 255.90 446.30 256.44 447.56 257.53 448.19 258.61 448.82 260.24 448.82 262.96 448.19 264.59 447.56 265.67 446.30 266.76 445.04 267.30M452.42 262.96 459.36 262.96 459.36 261.87 458.73 260.79 458.09 260.24 456.20 259.70 454.94 259.70 453.05 260.24 452.42 261.33 451.79 262.96 451.79 264.04 452.42 265.67 453.68 266.76 454.94 267.30 456.20 267.30 458.09 266.76 459.36 265.67M458.73 262.96 458.73 261.33 458.09 260.24M454.94 259.70 453.68 260.24 453.05 261.33 452.42 262.96 452.42 264.04 453.05 265.67 454.31 266.76 454.94 267.30M468.44 261.33 467.81 261.87 468.44 262.41 469.07 261.87 469.07 261.33 467.81 260.24 466.55 259.70 465.28 259.70 463.39 260.24 462.76 261.33 462.13 262.96 462.13 264.04 462.76 265.67 464.02 266.76 465.28 267.30 466.55 267.30 468.44 266.76 469.70 265.67M465.28 259.70 464.02 260.24 463.39 261.33 462.76 262.96 462.76 264.04 463.39 265.67 464.65 266.76 465.28 267.30" fill="none" stroke="#000" stroke-width="0.8" stroke-linecap="round" stroke-linejoin="round"/>
<path d="M51.80 520.50 62.18 520.50M69.67 514.40 67.94 514.98 66.79 516.72 66.21 519.63 66.21 521.37 66.79 524.28 67.94 526.02 69.67 526.60 70.82 526.60 72.55 526.02 73.71 524.28 74.28 521.37 74.28 519.63 73.71 516.72 72.55 514.98 70.82 514.40 69.67 514.40M67.94 514.98 67.36 516.14 66.79 518.47 66.79 522.53 67.36 524.86 67.94 526.02M72.55 526.02 73.13 524.86 73.71 522.53 73.71 518.47 73.13 516.14 72.55 514.98M84.08 514.40 82.93 520.21M82.93 520.21 84.08 519.05 85.81 518.47 87.54 518.47 89.27 519.05 90.42 520.21 91.00 521.95 91.00 523.11 90.42 524.86 89.27 526.02 87.54 526.60 85.81 526.60 84.08 526.02 83.51 525.44 82.93 524.28 82.93 523.70 83.51 523.11 84.08 523.70 83.51 524.28M87.54 518.47 88.69 519.05 89.85 520.21 90.42 521.95 90.42 523.11 89.85 524.86 88.69 526.02 87.54 526.60M84.08 514.40 89.85 514.40M84.08 514.98 86.96 514.98 89.85 514.40" fill="none" stroke="#000" stroke-width="0.8" stroke-linecap="round" stroke-linejoin="round"/><circle cx="78.61" cy="526.02" r="1.05" fill="#000"/>
<path d="M160.30 514.40 158.35 514.98 157.05 516.72 156.40 519.63 156.40 521.37 157.05 524.28 158.35 526.02 160.30 526.60 161.60 526.60 163.55 526.02 164.85 524.28 165.50 521.37 165.50 519.63 164.85 516.72 163.55 514.98 161.60 514.40 160.30 514.40M158.35 514.98 157.70 516.14 157.05 518.47 157.05 522.53 157.70 524.86 158.35 526.02M163.55 526.02 164.20 524.86 164.85 522.53 164.85 518.47 164.20 516.14 163.55 514.98" fill="none" stroke="#000" stroke-width="0.8" stroke-linecap="round" stroke-linejoin="round"/>
<path d="M241.49 514.40 239.69 514.98 238.50 516.72 237.90 519.63 237.90 521.37 238.50 524.28 239.69 526.02 241.49 526.60 242.68 526.60 244.47 526.02 245.67 524.28 246.27 521.37 246.27 519.63 245.67 516.72 244.47 514.98 242.68 514.40 241.49 514.40M239.69 514.98 239.10 516.14 238.50 518.47 238.50 522.53 239.10 524.86 239.69 526.02M244.47 526.02 245.07 524.86 245.67 522.53 245.67 518.47 245.07 516.14 244.47 514.98M256.43 514.40 255.23 520.21M255.23 520.21 256.43 519.05 258.22 518.47 260.01 518.47 261.81 519.05 263.00 520.21 263.60 521.95 263.60 523.11 263.00 524.86 261.81 526.02 260.01 526.60 258.22 526.60 256.43 526.02 255.83 525.44 255.23 524.28 255.23 523.70 255.83 523.11 256.43 523.70 255.83 524.28M260.01 518.47 261.21 519.05 262.40 520.21 263.00 521.95 263.00 523.11 262.40 524.86 261.21 526.02 260.01 526.60M256.43 514.40 262.40 514.40M256.43 514.98 259.42 514.98 262.40 514.40" fill="none" stroke="#000" stroke-width="0.8" stroke-linecap="round" stroke-linejoin="round"/><circle cx="250.75" cy="526.02" r="1.05" fill="#000"/>
<path d="M149.35 537.90 144.60 549.30M149.35 537.90 154.11 549.30M149.35 539.53 153.51 549.30M144.60 549.30 154.11 549.30M145.19 548.76 153.51 548.76M157.79 537.90 157.79 549.30M158.39 537.90 158.39 549.30M156.01 537.90 162.55 537.90 164.33 538.44 164.93 538.99 165.52 540.07 165.52 541.16 164.93 542.24 164.33 542.79 162.55 543.33 158.39 543.33M162.55 537.90 163.74 538.44 164.33 538.99 164.93 540.07 164.93 541.16 164.33 542.24 163.74 542.79 162.55 543.33M160.77 543.33 161.95 543.87 162.55 544.41 163.74 548.21 164.33 548.76 164.93 548.76 165.52 548.21M161.95 543.87 162.55 544.96 163.14 548.76 163.74 549.30 164.93 549.30 165.52 548.21 165.52 547.67M156.01 549.30 160.17 549.30M172.65 537.90 168.49 549.30M172.65 537.90 176.81 549.30M172.65 539.53 176.22 549.30M170.27 546.04 175.62 546.04M167.30 549.30 170.87 549.30M174.43 549.30 178.00 549.30" fill="none" stroke="#000" stroke-width="0.8" stroke-linecap="round" stroke-linejoin="round"/>
<path d="M372.60 516.72 373.78 516.14 375.55 514.40 375.55 526.60M374.96 514.98 374.96 526.60M372.60 526.60 377.61 526.60M383.21 516.72 383.80 517.30 383.21 517.89 382.62 517.30 382.62 516.72 383.21 515.56 383.80 514.98 385.57 514.40 387.93 514.40 389.70 514.98 390.29 515.56 390.88 516.72 390.88 517.89 390.29 519.05 388.52 520.21 385.57 521.37 384.39 521.95 383.21 523.11 382.62 524.86 382.62 526.60M387.93 514.40 389.11 514.98 389.70 515.56 390.29 516.72 390.29 517.89 389.70 519.05 387.93 520.21 385.57 521.37M382.62 525.44 383.21 524.86 384.39 524.86 387.34 526.02 389.11 526.02 390.29 525.44 390.88 524.28M384.39 524.86 387.34 526.60 389.70 526.60 390.29 526.02 390.88 524.28 390.88 523.11M394.42 514.40 394.42 517.89M394.42 516.72 395.01 515.56 396.19 514.40 397.37 514.40 400.31 516.14 401.49 516.14 402.08 515.56 402.67 514.40M395.01 515.56 396.19 514.98 397.37 514.98 400.31 516.14M402.67 514.40 402.67 516.14 402.08 517.89 399.73 520.79 399.14 521.95 398.55 524.28 398.55 526.60M402.08 517.89 399.14 520.79 398.55 521.95 397.96 524.28 397.96 526.60M413.29 516.72 414.47 516.14 416.24 514.40 416.24 526.60M415.65 514.98 415.65 526.60M413.29 526.60 418.30 526.60" fill="none" stroke="#000" stroke-width="0.8" stroke-linecap="round" stroke-linejoin="round"/><circle cx="407.10" cy="526.02" r="1.05" fill="#000"/>
<path d="M446.00 516.72 447.16 516.14 448.91 514.40 448.91 526.60M448.33 514.98 448.33 526.60M446.00 526.60 450.95 526.60M456.48 516.72 457.06 517.30 456.48 517.89 455.89 517.30 455.89 516.72 456.48 515.56 457.06 514.98 458.80 514.40 461.13 514.40 462.88 514.98 463.46 515.56 464.04 516.72 464.04 517.89 463.46 519.05 461.71 520.21 458.80 521.37 457.64 521.95 456.48 523.11 455.89 524.86 455.89 526.60M461.13 514.40 462.30 514.98 462.88 515.56 463.46 516.72 463.46 517.89 462.88 519.05 461.13 520.21 458.80 521.37M455.89 525.44 456.48 524.86 457.64 524.86 460.55 526.02 462.30 526.02 463.46 525.44 464.04 524.28M457.64 524.86 460.55 526.60 462.88 526.60 463.46 526.02 464.04 524.28 464.04 523.11M467.53 514.40 467.53 517.89M467.53 516.72 468.12 515.56 469.28 514.40 470.44 514.40 473.35 516.14 474.52 516.14 475.10 515.56 475.68 514.40M468.12 515.56 469.28 514.98 470.44 514.98 473.35 516.14M475.68 514.40 475.68 516.14 475.10 517.89 472.77 520.79 472.19 521.95 471.61 524.28 471.61 526.60M475.10 517.89 472.19 520.79 471.61 521.95 471.03 524.28 471.03 526.60M486.16 516.72 487.32 516.14 489.07 514.40 489.07 526.60M488.49 514.98 488.49 526.60M486.16 526.60 491.11 526.60M496.63 516.72 497.22 517.30 496.63 517.89 496.05 517.30 496.05 516.72 496.63 515.56 497.22 514.98 498.96 514.40 501.29 514.40 503.04 514.98 503.62 515.56 504.20 516.72 504.20 517.89 503.62 519.05 501.87 520.21 498.96 521.37 497.80 521.95 496.63 523.11 496.05 524.86 496.05 526.60M501.29 514.40 502.45 514.98 503.04 515.56 503.62 516.72 503.62 517.89 503.04 519.05 501.29 520.21 498.96 521.37M496.05 525.44 496.63 524.86 497.80 524.86 500.71 526.02 502.45 526.02 503.62 525.44 504.20 524.28M497.80 524.86 500.71 526.60 503.04 526.60 503.62 526.02 504.20 524.28 504.20 523.11" fill="none" stroke="#000" stroke-width="0.8" stroke-linecap="round" stroke-linejoin="round"/><circle cx="480.05" cy="526.02" r="1.05" fill="#000"/>
<path d="M445.35 537.90 445.35 549.30M445.94 537.90 445.94 549.30M443.60 537.90 450.02 537.90 451.77 538.44 452.36 538.99 452.94 540.07 452.94 541.16 452.36 542.24 451.77 542.79 450.02 543.33 445.94 543.33M450.02 537.90 451.19 538.44 451.77 538.99 452.36 540.07 452.36 541.16 451.77 542.24 451.19 542.79 450.02 543.33M448.27 543.33 449.44 543.87 450.02 544.41 451.19 548.21 451.77 548.76 452.36 548.76 452.94 548.21M449.44 543.87 450.02 544.96 450.61 548.76 451.19 549.30 452.36 549.30 452.94 548.21 452.94 547.67M443.60 549.30 447.69 549.30M459.95 537.90 455.86 549.30M459.95 537.90 464.03 549.30M459.95 539.53 463.45 549.30M457.61 546.04 462.86 546.04M454.69 549.30 458.19 549.30M461.70 549.30 465.20 549.30" fill="none" stroke="#000" stroke-width="0.8" stroke-linecap="round" stroke-linejoin="round"/>
</svg></body></html>
